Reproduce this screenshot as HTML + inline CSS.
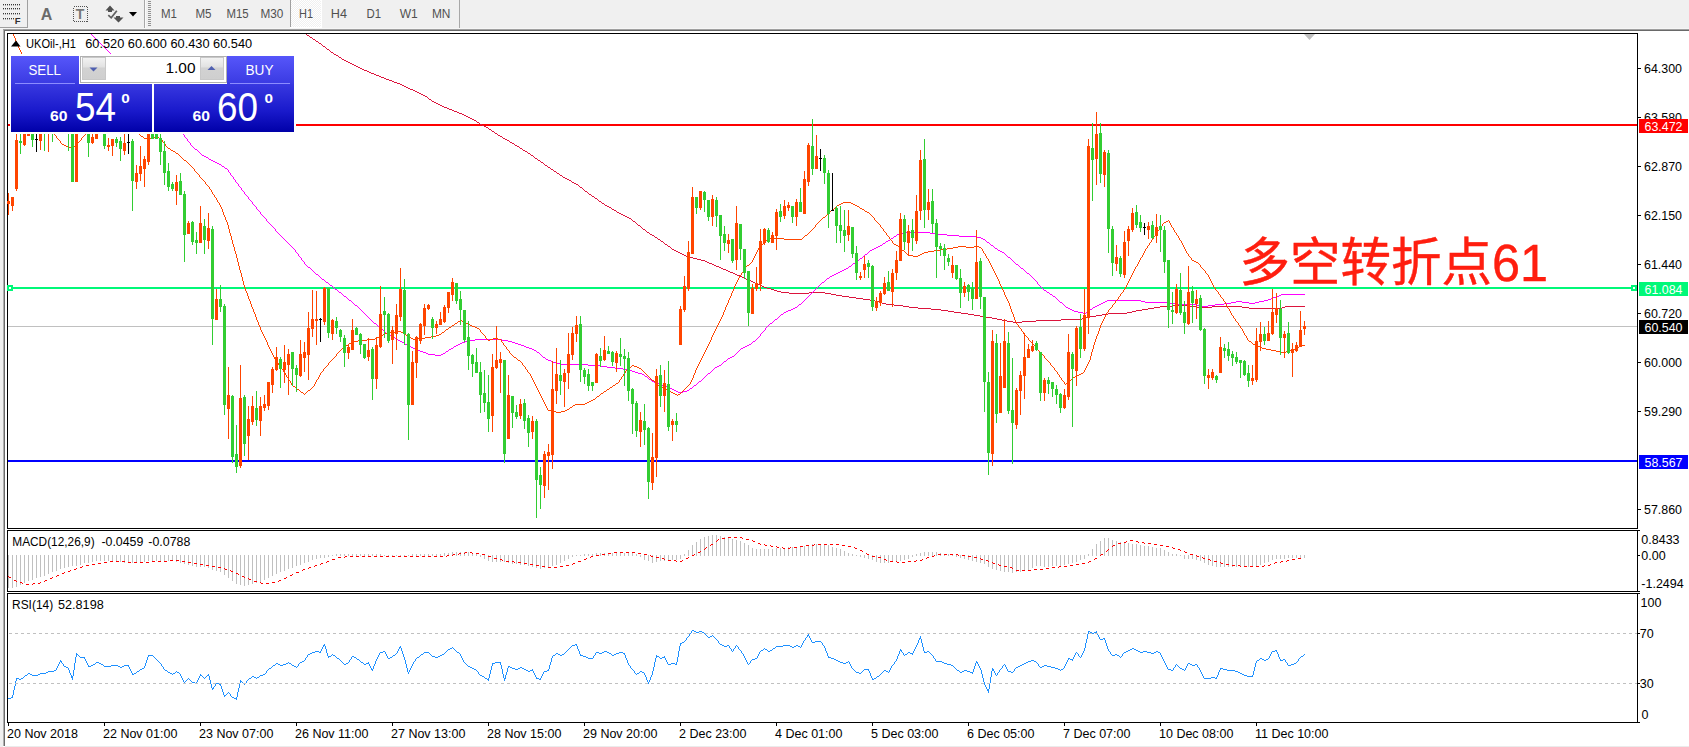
<!DOCTYPE html>
<html><head><meta charset="utf-8"><title>UKOil-,H1</title>
<style>
html,body{margin:0;padding:0;background:#fff;}
body{width:1689px;height:747px;overflow:hidden;position:relative;font-family:"Liberation Sans", sans-serif;}
svg{position:absolute;left:0;top:0;display:block}
text{font-family:"Liberation Sans", sans-serif;}
.ax{font-size:12.5px;fill:#000;}
.tf{font-size:12.5px;fill:#505050;}
.cj{font-family:"Liberation Sans","Noto Sans CJK SC",sans-serif;}
</style></head><body>
<svg width="1689" height="747" viewBox="0 0 1689 747" shape-rendering="crispEdges">
<defs>
<linearGradient id="gb1" x1="0" y1="0" x2="0" y2="1"><stop offset="0" stop-color="#5656fa"/><stop offset="1" stop-color="#3a3ae2"/></linearGradient>
<linearGradient id="gb2" x1="0" y1="0" x2="0" y2="1"><stop offset="0" stop-color="#3838e0"/><stop offset="0.55" stop-color="#1a1acc"/><stop offset="1" stop-color="#0000a8"/></linearGradient>
<linearGradient id="gsp" x1="0" y1="0" x2="0" y2="1"><stop offset="0" stop-color="#f4f4f4"/><stop offset="0.45" stop-color="#e2e2e2"/><stop offset="0.5" stop-color="#d2d2d2"/><stop offset="1" stop-color="#cfcfcf"/></linearGradient>
<pattern id="chk" x="0" y="0" width="2" height="2" patternUnits="userSpaceOnUse"><rect x="0" y="0" width="2" height="2" fill="#f0f0f0"/><rect x="0" y="0" width="1" height="1" fill="#fff"/><rect x="1" y="1" width="1" height="1" fill="#fff"/></pattern>
</defs>

<rect x="0" y="0" width="1689" height="747" fill="#ffffff"/>
<rect x="0" y="0" width="1689" height="29" fill="#f0f0f0"/>
<rect x="0" y="28" width="1689" height="1" fill="#f6f6f6"/>
<rect x="0" y="29" width="1689" height="1" fill="#a0a0a0"/>
<rect x="0" y="30" width="1689" height="1" fill="#696969"/>
<rect x="0" y="29" width="3" height="718" fill="#f0f0f0"/>
<rect x="3" y="30" width="1" height="716" fill="#b0b0b0"/>
<rect x="4" y="30" width="1" height="716" fill="#6c6c6c"/>
<rect x="5" y="746" width="1684" height="1" fill="#ebebeb"/>
<rect x="27" y="0" width="1" height="28" fill="#a0a0a0"/>
<rect x="0" y="27" width="28" height="1" fill="#a0a0a0"/>
<rect x="3" y="4" width="1" height="1" fill="#383838"/>
<rect x="3" y="5" width="1" height="1" fill="#383838" fill-opacity="0.35"/>
<rect x="5" y="4" width="1" height="1" fill="#383838"/>
<rect x="5" y="5" width="1" height="1" fill="#383838" fill-opacity="0.35"/>
<rect x="7" y="4" width="1" height="1" fill="#383838"/>
<rect x="7" y="5" width="1" height="1" fill="#383838" fill-opacity="0.35"/>
<rect x="9" y="4" width="1" height="1" fill="#383838"/>
<rect x="9" y="5" width="1" height="1" fill="#383838" fill-opacity="0.35"/>
<rect x="11" y="4" width="1" height="1" fill="#383838"/>
<rect x="11" y="5" width="1" height="1" fill="#383838" fill-opacity="0.35"/>
<rect x="13" y="4" width="1" height="1" fill="#383838"/>
<rect x="13" y="5" width="1" height="1" fill="#383838" fill-opacity="0.35"/>
<rect x="15" y="4" width="1" height="1" fill="#383838"/>
<rect x="15" y="5" width="1" height="1" fill="#383838" fill-opacity="0.35"/>
<rect x="17" y="4" width="1" height="1" fill="#383838"/>
<rect x="17" y="5" width="1" height="1" fill="#383838" fill-opacity="0.35"/>
<rect x="19" y="4" width="1" height="1" fill="#383838"/>
<rect x="19" y="5" width="1" height="1" fill="#383838" fill-opacity="0.35"/>
<rect x="3" y="8" width="1" height="1" fill="#383838"/>
<rect x="3" y="9" width="1" height="1" fill="#383838" fill-opacity="0.35"/>
<rect x="5" y="8" width="1" height="1" fill="#383838"/>
<rect x="5" y="9" width="1" height="1" fill="#383838" fill-opacity="0.35"/>
<rect x="7" y="8" width="1" height="1" fill="#383838"/>
<rect x="7" y="9" width="1" height="1" fill="#383838" fill-opacity="0.35"/>
<rect x="9" y="8" width="1" height="1" fill="#383838"/>
<rect x="9" y="9" width="1" height="1" fill="#383838" fill-opacity="0.35"/>
<rect x="11" y="8" width="1" height="1" fill="#383838"/>
<rect x="11" y="9" width="1" height="1" fill="#383838" fill-opacity="0.35"/>
<rect x="13" y="8" width="1" height="1" fill="#383838"/>
<rect x="13" y="9" width="1" height="1" fill="#383838" fill-opacity="0.35"/>
<rect x="15" y="8" width="1" height="1" fill="#383838"/>
<rect x="15" y="9" width="1" height="1" fill="#383838" fill-opacity="0.35"/>
<rect x="17" y="8" width="1" height="1" fill="#383838"/>
<rect x="17" y="9" width="1" height="1" fill="#383838" fill-opacity="0.35"/>
<rect x="19" y="8" width="1" height="1" fill="#383838"/>
<rect x="19" y="9" width="1" height="1" fill="#383838" fill-opacity="0.35"/>
<rect x="3" y="13" width="1" height="1" fill="#383838"/>
<rect x="3" y="14" width="1" height="1" fill="#383838" fill-opacity="0.35"/>
<rect x="5" y="13" width="1" height="1" fill="#383838"/>
<rect x="5" y="14" width="1" height="1" fill="#383838" fill-opacity="0.35"/>
<rect x="7" y="13" width="1" height="1" fill="#383838"/>
<rect x="7" y="14" width="1" height="1" fill="#383838" fill-opacity="0.35"/>
<rect x="9" y="13" width="1" height="1" fill="#383838"/>
<rect x="9" y="14" width="1" height="1" fill="#383838" fill-opacity="0.35"/>
<rect x="11" y="13" width="1" height="1" fill="#383838"/>
<rect x="11" y="14" width="1" height="1" fill="#383838" fill-opacity="0.35"/>
<rect x="13" y="13" width="1" height="1" fill="#383838"/>
<rect x="13" y="14" width="1" height="1" fill="#383838" fill-opacity="0.35"/>
<rect x="15" y="13" width="1" height="1" fill="#383838"/>
<rect x="15" y="14" width="1" height="1" fill="#383838" fill-opacity="0.35"/>
<rect x="17" y="13" width="1" height="1" fill="#383838"/>
<rect x="17" y="14" width="1" height="1" fill="#383838" fill-opacity="0.35"/>
<rect x="19" y="13" width="1" height="1" fill="#383838"/>
<rect x="19" y="14" width="1" height="1" fill="#383838" fill-opacity="0.35"/>
<rect x="3" y="18" width="1" height="1" fill="#383838"/>
<rect x="3" y="19" width="1" height="1" fill="#383838" fill-opacity="0.35"/>
<rect x="5" y="18" width="1" height="1" fill="#383838"/>
<rect x="5" y="19" width="1" height="1" fill="#383838" fill-opacity="0.35"/>
<rect x="7" y="18" width="1" height="1" fill="#383838"/>
<rect x="7" y="19" width="1" height="1" fill="#383838" fill-opacity="0.35"/>
<rect x="9" y="18" width="1" height="1" fill="#383838"/>
<rect x="9" y="19" width="1" height="1" fill="#383838" fill-opacity="0.35"/>
<rect x="11" y="18" width="1" height="1" fill="#383838"/>
<rect x="11" y="19" width="1" height="1" fill="#383838" fill-opacity="0.35"/>
<rect x="13" y="18" width="1" height="1" fill="#383838"/>
<rect x="13" y="19" width="1" height="1" fill="#383838" fill-opacity="0.35"/>
<text x="14.8" y="23.5" font-size="9.5px" font-weight="bold" fill="#303030" shape-rendering="auto">F</text>
<text x="40.8" y="20" font-size="16px" font-weight="bold" fill="#6a6a6a" shape-rendering="auto">A</text>
<rect x="73.5" y="6.5" width="14" height="15" fill="none" stroke="#505050" stroke-width="1" stroke-dasharray="1,1"/>
<text x="75.8" y="19.3" font-size="14px" font-weight="bold" fill="#787878" shape-rendering="auto">T</text>
<path d="M105.5 10.5 L110 5.5 L114.5 10.5 L112 10.5 L112 12 L108 12 L108 10.5 Z M113.5 17.5 L116 17.5 L116 16 L120 16 L120 17.5 L123.5 17.5 L118.5 22.5 Z" fill="#505050" shape-rendering="auto"/>
<path d="M108.3 15.2 L111.2 17.8 L116.8 10.8" fill="none" stroke="#606060" stroke-width="1.8" shape-rendering="auto"/>
<path d="M129 12 L137 12 L133 16.5 Z" fill="#000" shape-rendering="auto"/>
<rect x="144" y="0" width="1" height="28" fill="#a8a8a8"/>
<rect x="145" y="0" width="1" height="28" fill="#fafafa"/>
<rect x="148" y="1" width="3" height="1" fill="#909090"/>
<rect x="148" y="3" width="3" height="1" fill="#909090"/>
<rect x="148" y="5" width="3" height="1" fill="#909090"/>
<rect x="148" y="7" width="3" height="1" fill="#909090"/>
<rect x="148" y="9" width="3" height="1" fill="#909090"/>
<rect x="148" y="11" width="3" height="1" fill="#909090"/>
<rect x="148" y="13" width="3" height="1" fill="#909090"/>
<rect x="148" y="15" width="3" height="1" fill="#909090"/>
<rect x="148" y="17" width="3" height="1" fill="#909090"/>
<rect x="148" y="19" width="3" height="1" fill="#909090"/>
<rect x="148" y="21" width="3" height="1" fill="#909090"/>
<rect x="148" y="23" width="3" height="1" fill="#909090"/>
<rect x="148" y="25" width="3" height="1" fill="#909090"/>
<rect x="291" y="0" width="30" height="27" fill="url(#chk)"/>
<rect x="290" y="0" width="1" height="27" fill="#a0a0a0"/>
<rect x="321" y="0" width="1" height="28" fill="#ffffff"/>
<rect x="290" y="27" width="32" height="1" fill="#ffffff"/>
<rect x="459" y="0" width="1" height="28" fill="#a8a8a8"/>
<text class="tf" x="161" y="18" textLength="16.0" lengthAdjust="spacingAndGlyphs" shape-rendering="auto">M1</text>
<text class="tf" x="195.4" y="18" textLength="16.1" lengthAdjust="spacingAndGlyphs" shape-rendering="auto">M5</text>
<text class="tf" x="226.5" y="18" textLength="22.2" lengthAdjust="spacingAndGlyphs" shape-rendering="auto">M15</text>
<text class="tf" x="260.4" y="18" textLength="22.9" lengthAdjust="spacingAndGlyphs" shape-rendering="auto">M30</text>
<text class="tf" x="299" y="18" textLength="14.0" lengthAdjust="spacingAndGlyphs" shape-rendering="auto">H1</text>
<text class="tf" x="330.8" y="18" textLength="16.2" lengthAdjust="spacingAndGlyphs" shape-rendering="auto">H4</text>
<text class="tf" x="366.4" y="18" textLength="14.6" lengthAdjust="spacingAndGlyphs" shape-rendering="auto">D1</text>
<text class="tf" x="399.7" y="18" textLength="18.1" lengthAdjust="spacingAndGlyphs" shape-rendering="auto">W1</text>
<text class="tf" x="431.9" y="18" textLength="18.5" lengthAdjust="spacingAndGlyphs" shape-rendering="auto">MN</text>
<rect x="7" y="33" width="1631" height="1" fill="#000"/>
<rect x="7" y="528" width="1631" height="1" fill="#000"/>
<rect x="7" y="33" width="1" height="496" fill="#000"/>
<rect x="1637" y="33" width="1" height="496" fill="#000"/>
<rect x="7" y="530" width="1631" height="1" fill="#000"/>
<rect x="7" y="591" width="1631" height="1" fill="#000"/>
<rect x="7" y="530" width="1" height="62" fill="#000"/>
<rect x="1637" y="530" width="1" height="62" fill="#000"/>
<rect x="7" y="593" width="1631" height="1" fill="#000"/>
<rect x="7" y="722" width="1631" height="1" fill="#000"/>
<rect x="7" y="593" width="1" height="130" fill="#000"/>
<rect x="1637" y="593" width="1" height="130" fill="#000"/>
<rect x="8" y="326" width="1629" height="1" fill="#c0c0c0"/>
<rect x="8" y="124" width="1629" height="2" fill="#ff0000"/>
<rect x="8" y="287" width="1629" height="2" fill="#00f878"/>
<rect x="8" y="460" width="1629" height="2" fill="#0000ff"/>
<path d="M306 34.5h1M307 35.5h2M309 36.5h1M310 37.5h2M312 38.5h1M313 39.5h2M315 40.5h1M316 41.5h2M318 42.5h1M319 43.5h2M321 44.5h1M322 45.5h1M323 46.5h2M325 47.5h1M326 48.5h1M327 49.5h2M329 50.5h1M330 51.5h1M331 52.5h2M333 53.5h1M334 54.5h2M336 55.5h2M338 56.5h1M339 57.5h2M341 58.5h1M342 59.5h2M344 60.5h2M346 61.5h2M348 62.5h2M350 63.5h2M352 64.5h2M354 65.5h2M356 66.5h2M358 67.5h2M360 68.5h2M362 69.5h2M364 70.5h3M367 71.5h2M369 72.5h2M371 73.5h3M374 74.5h2M376 75.5h3M379 76.5h2M381 77.5h3M384 78.5h2M386 79.5h3M389 80.5h3M392 81.5h2M394 82.5h3M397 83.5h3M400 84.5h2M402 85.5h2M404 86.5h2M406 87.5h2M408 88.5h2M410 89.5h3M413 90.5h2M415 91.5h2M417 92.5h2M419 93.5h2M421 94.5h2M423 95.5h2M425 96.5h2M427 97.5h1M428 98.5h1M429 99.5h2M431 100.5h1M432 101.5h2M434 102.5h2M436 103.5h2M438 104.5h2M440 105.5h2M442 106.5h2M444 107.5h3M447 108.5h2M449 109.5h3M452 110.5h2M454 111.5h3M457 112.5h2M459 113.5h3M462 114.5h2M464 115.5h2M466 116.5h2M468 117.5h2M470 118.5h2M472 119.5h2M474 120.5h2M476 121.5h1M477 122.5h2M479 123.5h1M480 124.5h2M482 125.5h2M484 126.5h2M486 127.5h2M488 128.5h1M489 129.5h2M491 130.5h1M492 131.5h2M494 132.5h1M495 133.5h2M497 134.5h1M498 135.5h2M500 136.5h2M502 137.5h1M503 138.5h2M505 139.5h2M507 140.5h2M509 141.5h1M510 142.5h2M512 143.5h2M514 144.5h1M515 145.5h2M517 146.5h2M519 147.5h1M520 148.5h2M522 149.5h1M523 150.5h2M525 151.5h2M527 152.5h1M528 153.5h2M530 154.5h1M531 155.5h2M533 156.5h1M534 157.5h1M535 158.5h2M537 159.5h1M538 160.5h2M540 161.5h1M541 162.5h2M543 163.5h1M544 164.5h1M545 165.5h2M547 166.5h1M548 167.5h2M550 168.5h1M551 169.5h2M553 170.5h1M554 171.5h2M556 172.5h1M557 173.5h2M559 174.5h1M560 175.5h2M562 176.5h1M563 177.5h2M565 178.5h2M567 179.5h2M569 180.5h2M571 181.5h1M572 182.5h2M574 183.5h2M576 184.5h2M578 185.5h1M579 186.5h1M580 187.5h2M582 188.5h1M583 189.5h1M584 190.5h1M585 191.5h2M587 192.5h1M588 193.5h1M589 194.5h2M591 195.5h1M592 196.5h2M594 197.5h1M595 198.5h2M597 199.5h1M598 200.5h1M599 201.5h2M601 202.5h1M602 203.5h2M604 204.5h1M605 205.5h2M607 206.5h2M609 207.5h2M611 208.5h1M612 209.5h2M614 210.5h2M616 211.5h1M617 212.5h2M619 213.5h2M621 214.5h2M623 215.5h2M625 216.5h2M627 217.5h2M629 218.5h2M631 219.5h1M632 220.5h1M633 221.5h2M635 222.5h1M636 223.5h1M637 224.5h1M638 225.5h2M640 226.5h1M641 227.5h1M642 228.5h1M643 229.5h2M645 230.5h1M646 231.5h1M647 232.5h2M649 233.5h1M650 234.5h2M652 235.5h2M654 236.5h1M655 237.5h2M657 238.5h1M658 239.5h2M660 240.5h1M661 241.5h2M663 242.5h1M664 243.5h1M665 244.5h2M667 245.5h1M668 246.5h2M670 247.5h1M671 248.5h1M672 249.5h2M674 250.5h2M676 251.5h2M678 252.5h2M680 253.5h2M682 254.5h2M684 255.5h2M686 256.5h3M689 257.5h4M693 258.5h4M697 259.5h4M701 260.5h4M705 261.5h2M707 262.5h2M709 263.5h3M712 264.5h2M714 265.5h2M716 266.5h3M719 267.5h2M721 268.5h2M723 269.5h3M726 270.5h2M728 271.5h2M730 272.5h3M733 273.5h2M735 274.5h2M737 275.5h3M740 276.5h2M742 277.5h2M744 278.5h2M746 279.5h3M749 280.5h2M751 281.5h2M753 282.5h2M755 283.5h2M757 284.5h3M760 285.5h2M762 286.5h2M764 287.5h3M767 288.5h4M771 289.5h3M774 290.5h3M777 291.5h4M781 292.5h8M809 292.5h16M789 293.5h20M825 293.5h6M831 294.5h5M836 295.5h6M842 296.5h7M849 297.5h7M856 298.5h7M863 299.5h7M870 300.5h5M875 301.5h4M879 302.5h3M882 303.5h4M886 304.5h8M894 305.5h9M1173 305.5h14M903 306.5h6M1160 306.5h13M1187 306.5h10M1212 306.5h30M1285 306.5h20M909 307.5h9M1154 307.5h6M1197 307.5h15M1242 307.5h7M1282 307.5h3M918 308.5h13M1148 308.5h6M1249 308.5h33M931 309.5h10M1142 309.5h6M941 310.5h7M1136 310.5h6M948 311.5h6M1132 311.5h4M954 312.5h7M1127 312.5h5M961 313.5h7M1108 313.5h19M968 314.5h6M1102 314.5h6M974 315.5h6M1096 315.5h6M980 316.5h6M1090 316.5h6M986 317.5h6M1086 317.5h4M992 318.5h5M1082 318.5h4M997 319.5h5M1061 319.5h21M1002 320.5h5M1036 320.5h25M1007 321.5h6M1022 321.5h14M1013 322.5h9" fill="none" stroke="#dc143c" stroke-width="1" shape-rendering="crispEdges"/>
<path d="M91 34.5h1M92 35.5h1M93 36.5h1M94 37.5h1M95 38.5h1M96 39.5h1M97 40.5h1M98 41.5h1M99 42.5h1M100 43.5h1M101 44.5h1M102 45.5h1M103 46.5h1M104 47.5h1M105 48.5h1M106 49.5h1M107 50.5h1M108 51.5h1M109 52.5h1M110 53.5h1M111 54.5h1M112 55.5h1M113 56.5h1M114 57.5h1M114 58.5h1M115 59.5h1M116 60.5h1M117 61.5h1M118 62.5h1M119 63.5h1M120 64.5h1M120 65.5h1M121 66.5h1M122 67.5h1M123 68.5h1M124 69.5h1M125 70.5h1M126 71.5h1M127 72.5h1M127 73.5h1M128 74.5h1M129 75.5h1M130 76.5h1M131 77.5h1M132 78.5h1M133 79.5h1M134 80.5h1M135 81.5h1M135 82.5h1M136 83.5h1M137 84.5h1M138 85.5h1M139 86.5h1M140 87.5h1M141 88.5h1M142 89.5h1M143 90.5h1M144 91.5h1M145 92.5h1M145 93.5h1M146 94.5h1M147 95.5h1M148 96.5h1M149 97.5h1M150 98.5h1M151 99.5h1M152 100.5h1M153 101.5h1M154 102.5h1M155 103.5h1M155 104.5h1M156 105.5h1M157 106.5h1M158 107.5h1M159 108.5h1M160 109.5h1M161 110.5h1M162 111.5h1M163 112.5h1M164 113.5h1M165 114.5h1M165 115.5h1M166 116.5h1M167 117.5h1M168 118.5h1M169 119.5h1M170 120.5h1M171 121.5h1M172 122.5h1M173 123.5h1M174 124.5h1M175 125.5h1M176 126.5h1M176 127.5h1M177 128.5h1M178 129.5h1M179 130.5h1M180 131.5h1M181 132.5h1M182 133.5h1M183 134.5h1M184 135.5h1M184 136.5h1M185 137.5h1M186 138.5h1M187 139.5h1M187 140.5h1M188 141.5h1M189 142.5h1M190 143.5h1M190 144.5h1M191 145.5h1M192 146.5h1M193 147.5h1M194 148.5h1M195 149.5h2M197 150.5h1M198 151.5h1M199 152.5h1M200 153.5h1M201 154.5h1M202 155.5h2M204 156.5h2M206 157.5h2M208 158.5h1M209 159.5h2M211 160.5h2M213 161.5h2M215 162.5h2M217 163.5h2M219 164.5h2M221 165.5h1M222 166.5h2M224 167.5h1M225 168.5h2M227 169.5h1M228 170.5h1M228 171.5h1M229 172.5h1M230 173.5h1M230 174.5h1M231 175.5h1M232 176.5h1M233 177.5h1M233 178.5h1M234 179.5h1M235 180.5h1M235 181.5h1M236 182.5h1M237 183.5h1M238 184.5h1M238 185.5h1M239 186.5h1M240 187.5h1M241 188.5h1M241 189.5h1M242 190.5h1M243 191.5h1M244 192.5h1M244 193.5h1M245 194.5h1M246 195.5h1M247 196.5h1M248 197.5h1M248 198.5h1M249 199.5h1M250 200.5h1M251 201.5h1M252 202.5h1M252 203.5h1M253 204.5h1M254 205.5h1M255 206.5h1M256 207.5h1M256 208.5h1M257 209.5h1M258 210.5h1M259 211.5h1M260 212.5h1M260 213.5h1M261 214.5h1M262 215.5h1M263 216.5h1M264 217.5h1M265 218.5h1M266 219.5h1M266 220.5h1M267 221.5h1M268 222.5h1M269 223.5h1M270 224.5h1M271 225.5h1M272 226.5h1M273 227.5h1M274 228.5h1M275 229.5h1M275 230.5h1M276 231.5h1M277 232.5h1M906 232.5h24M278 233.5h1M900 233.5h6M930 233.5h6M279 234.5h1M897 234.5h3M936 234.5h11M280 235.5h1M896 235.5h1M947 235.5h12M281 236.5h1M894 236.5h2M959 236.5h18M282 237.5h1M893 237.5h1M977 237.5h4M283 238.5h1M891 238.5h2M981 238.5h2M284 239.5h1M890 239.5h1M983 239.5h2M285 240.5h1M888 240.5h2M985 240.5h1M286 241.5h1M886 241.5h2M986 241.5h1M287 242.5h1M885 242.5h1M987 242.5h2M288 243.5h1M883 243.5h2M989 243.5h1M289 244.5h1M882 244.5h1M990 244.5h1M290 245.5h1M880 245.5h2M991 245.5h2M291 246.5h1M878 246.5h2M993 246.5h1M292 247.5h1M876 247.5h2M994 247.5h1M293 248.5h1M874 248.5h2M995 248.5h2M294 249.5h1M872 249.5h2M997 249.5h1M295 250.5h1M870 250.5h2M998 250.5h2M295 251.5h1M869 251.5h1M1000 251.5h2M296 252.5h1M868 252.5h1M1002 252.5h2M297 253.5h1M867 253.5h1M1004 253.5h1M298 254.5h1M865 254.5h2M1005 254.5h1M298 255.5h1M864 255.5h1M1006 255.5h1M299 256.5h1M863 256.5h1M1007 256.5h1M300 257.5h1M862 257.5h1M1008 257.5h2M301 258.5h1M860 258.5h2M1010 258.5h1M301 259.5h1M859 259.5h1M1011 259.5h1M302 260.5h1M858 260.5h1M1012 260.5h1M303 261.5h1M856 261.5h2M1013 261.5h1M304 262.5h1M855 262.5h1M1014 262.5h1M304 263.5h1M853 263.5h2M1015 263.5h1M305 264.5h1M852 264.5h1M1016 264.5h2M306 265.5h1M851 265.5h1M1018 265.5h1M307 266.5h1M849 266.5h2M1019 266.5h1M308 267.5h2M848 267.5h1M1020 267.5h1M310 268.5h1M846 268.5h2M1021 268.5h2M311 269.5h1M844 269.5h2M1023 269.5h1M312 270.5h1M842 270.5h2M1024 270.5h1M313 271.5h1M840 271.5h2M1025 271.5h1M314 272.5h1M838 272.5h2M1026 272.5h1M315 273.5h1M836 273.5h2M1027 273.5h2M316 274.5h2M834 274.5h2M1029 274.5h1M318 275.5h1M832 275.5h2M1030 275.5h1M319 276.5h1M830 276.5h2M1031 276.5h1M320 277.5h1M829 277.5h1M1032 277.5h1M321 278.5h1M827 278.5h2M1033 278.5h1M322 279.5h2M826 279.5h1M1034 279.5h1M324 280.5h1M825 280.5h1M1035 280.5h1M325 281.5h1M824 281.5h1M1036 281.5h1M326 282.5h2M822 282.5h2M1037 282.5h1M328 283.5h1M821 283.5h1M1037 283.5h1M329 284.5h1M820 284.5h1M1038 284.5h1M330 285.5h2M819 285.5h1M1039 285.5h1M332 286.5h1M818 286.5h1M1040 286.5h1M333 287.5h1M817 287.5h1M1041 287.5h1M334 288.5h1M816 288.5h1M1042 288.5h1M335 289.5h2M815 289.5h1M1043 289.5h1M337 290.5h1M814 290.5h1M1044 290.5h2M338 291.5h1M813 291.5h1M1046 291.5h1M339 292.5h2M812 292.5h1M1047 292.5h2M341 293.5h1M811 293.5h1M1049 293.5h1M342 294.5h1M810 294.5h1M1050 294.5h2M1281 294.5h24M343 295.5h1M809 295.5h1M1052 295.5h1M1279 295.5h2M344 296.5h2M808 296.5h1M1053 296.5h2M1276 296.5h3M346 297.5h1M807 297.5h1M1055 297.5h1M1273 297.5h3M347 298.5h1M806 298.5h1M1056 298.5h1M1271 298.5h2M348 299.5h1M805 299.5h1M1057 299.5h1M1268 299.5h3M349 300.5h2M804 300.5h1M1058 300.5h1M1107 300.5h34M1264 300.5h4M351 301.5h1M803 301.5h1M1059 301.5h1M1105 301.5h2M1141 301.5h4M1236 301.5h6M1259 301.5h5M352 302.5h1M802 302.5h1M1060 302.5h2M1103 302.5h2M1145 302.5h23M1231 302.5h5M1242 302.5h7M1255 302.5h4M353 303.5h1M801 303.5h1M1062 303.5h1M1101 303.5h2M1168 303.5h9M1224 303.5h7M1249 303.5h6M354 304.5h1M799 304.5h2M1063 304.5h1M1099 304.5h2M1177 304.5h19M1215 304.5h9M355 305.5h2M798 305.5h1M1064 305.5h1M1097 305.5h2M1196 305.5h6M1208 305.5h7M357 306.5h1M797 306.5h1M1065 306.5h1M1095 306.5h2M1202 306.5h6M358 307.5h1M795 307.5h2M1066 307.5h2M1093 307.5h2M359 308.5h1M793 308.5h2M1068 308.5h2M1092 308.5h1M360 309.5h1M791 309.5h2M1070 309.5h2M1090 309.5h2M361 310.5h1M788 310.5h3M1072 310.5h2M1089 310.5h1M362 311.5h1M786 311.5h2M1074 311.5h4M1088 311.5h1M363 312.5h1M784 312.5h2M1078 312.5h5M1086 312.5h2M364 313.5h1M783 313.5h1M1083 313.5h3M365 314.5h1M781 314.5h2M366 315.5h1M780 315.5h1M367 316.5h1M779 316.5h1M368 317.5h1M778 317.5h1M369 318.5h1M777 318.5h1M370 319.5h1M775 319.5h2M371 320.5h1M774 320.5h1M372 321.5h1M773 321.5h1M373 322.5h1M772 322.5h1M374 323.5h2M770 323.5h2M376 324.5h1M769 324.5h1M377 325.5h1M768 325.5h1M378 326.5h1M767 326.5h1M379 327.5h1M766 327.5h1M380 328.5h1M765 328.5h1M381 329.5h2M765 329.5h1M383 330.5h1M764 330.5h1M384 331.5h1M763 331.5h1M385 332.5h1M762 332.5h1M386 333.5h1M761 333.5h1M387 334.5h2M760 334.5h1M389 335.5h2M760 335.5h1M391 336.5h2M759 336.5h1M393 337.5h2M758 337.5h1M395 338.5h1M757 338.5h1M396 339.5h2M475 339.5h27M756 339.5h1M398 340.5h2M467 340.5h8M502 340.5h6M755 340.5h1M400 341.5h2M465 341.5h2M508 341.5h4M753 341.5h2M402 342.5h2M462 342.5h3M512 342.5h3M752 342.5h1M404 343.5h1M460 343.5h2M515 343.5h3M751 343.5h1M405 344.5h2M458 344.5h2M518 344.5h3M749 344.5h2M407 345.5h2M456 345.5h2M521 345.5h3M747 345.5h2M409 346.5h2M454 346.5h2M524 346.5h2M745 346.5h2M411 347.5h2M453 347.5h1M526 347.5h3M743 347.5h2M413 348.5h2M451 348.5h2M529 348.5h3M741 348.5h2M415 349.5h3M449 349.5h2M532 349.5h2M740 349.5h1M418 350.5h2M448 350.5h1M534 350.5h2M739 350.5h1M420 351.5h3M446 351.5h2M536 351.5h1M738 351.5h1M423 352.5h3M445 352.5h1M537 352.5h2M737 352.5h1M426 353.5h2M443 353.5h2M539 353.5h1M736 353.5h1M428 354.5h7M441 354.5h2M540 354.5h1M735 354.5h1M435 355.5h6M541 355.5h1M734 355.5h1M542 356.5h1M732 356.5h2M543 357.5h2M730 357.5h2M545 358.5h1M728 358.5h2M546 359.5h2M727 359.5h1M548 360.5h3M726 360.5h1M551 361.5h2M724 361.5h2M553 362.5h3M723 362.5h1M556 363.5h4M722 363.5h1M560 364.5h28M721 364.5h1M588 365.5h12M719 365.5h2M600 366.5h7M717 366.5h2M607 367.5h8M715 367.5h2M615 368.5h8M714 368.5h1M623 369.5h5M713 369.5h1M628 370.5h4M712 370.5h1M632 371.5h3M711 371.5h1M635 372.5h3M710 372.5h1M638 373.5h4M708 373.5h2M642 374.5h2M707 374.5h1M644 375.5h1M706 375.5h1M645 376.5h2M705 376.5h1M647 377.5h1M704 377.5h1M648 378.5h1M703 378.5h1M649 379.5h2M702 379.5h1M651 380.5h1M701 380.5h1M652 381.5h2M699 381.5h2M654 382.5h3M698 382.5h1M657 383.5h2M697 383.5h1M659 384.5h3M696 384.5h1M662 385.5h3M694 385.5h2M665 386.5h2M693 386.5h1M667 387.5h3M692 387.5h1M670 388.5h2M690 388.5h2M672 389.5h2M689 389.5h1M674 390.5h2M687 390.5h2M676 391.5h2M683 391.5h4M678 392.5h5" fill="none" stroke="#ff00ff" stroke-width="1" shape-rendering="crispEdges"/>
<path d="M13 34.5h1M13 35.5h1M14 36.5h1M14 37.5h1M15 38.5h1M15 39.5h1M15 40.5h1M16 41.5h1M16 42.5h1M17 43.5h1M17 44.5h1M17 45.5h1M18 46.5h1M18 47.5h1M19 48.5h1M19 49.5h1M20 50.5h1M20 51.5h1M21 52.5h1M21 53.5h1M22 54.5h1M22 55.5h1M22 56.5h1M23 57.5h1M23 58.5h1M24 59.5h1M24 60.5h1M24 61.5h1M25 62.5h1M25 63.5h1M26 64.5h1M26 65.5h1M26 66.5h1M27 67.5h1M27 68.5h1M28 69.5h1M28 70.5h1M28 71.5h1M29 72.5h1M29 73.5h1M30 74.5h1M30 75.5h1M30 76.5h1M31 77.5h1M31 78.5h1M32 79.5h1M32 80.5h1M32 81.5h1M33 82.5h1M33 83.5h1M34 84.5h1M34 85.5h1M34 86.5h1M35 87.5h1M35 88.5h1M36 89.5h1M36 90.5h1M36 91.5h1M37 92.5h1M37 93.5h1M38 94.5h1M38 95.5h1M38 96.5h1M39 97.5h1M39 98.5h1M40 99.5h1M40 100.5h1M40 101.5h1M41 102.5h1M41 103.5h1M41 104.5h1M42 105.5h1M42 106.5h1M43 107.5h1M43 108.5h1M43 109.5h1M44 110.5h1M44 111.5h1M44 112.5h1M45 113.5h1M45 114.5h1M45 115.5h1M46 116.5h1M46 117.5h1M47 118.5h1M109 118.5h3M47 119.5h1M107 119.5h2M112 119.5h4M47 120.5h1M104 120.5h3M116 120.5h4M48 121.5h1M102 121.5h2M120 121.5h4M48 122.5h1M99 122.5h3M124 122.5h2M48 123.5h1M97 123.5h2M126 123.5h1M49 124.5h1M95 124.5h2M127 124.5h1M49 125.5h1M94 125.5h1M128 125.5h2M50 126.5h1M93 126.5h1M130 126.5h1M50 127.5h1M92 127.5h1M131 127.5h1M51 128.5h1M91 128.5h1M132 128.5h1M51 129.5h1M90 129.5h1M133 129.5h1M52 130.5h1M89 130.5h1M134 130.5h1M52 131.5h1M88 131.5h1M135 131.5h2M53 132.5h1M87 132.5h1M137 132.5h1M53 133.5h1M86 133.5h1M138 133.5h1M54 134.5h1M85 134.5h1M139 134.5h1M55 135.5h1M84 135.5h1M140 135.5h1M56 136.5h1M83 136.5h1M141 136.5h2M155 136.5h2M56 137.5h1M82 137.5h1M143 137.5h1M152 137.5h3M157 137.5h2M57 138.5h1M81 138.5h1M144 138.5h8M159 138.5h2M58 139.5h1M81 139.5h1M161 139.5h1M59 140.5h1M80 140.5h1M162 140.5h1M60 141.5h1M79 141.5h1M162 141.5h1M60 142.5h1M78 142.5h1M163 142.5h1M61 143.5h1M77 143.5h1M164 143.5h1M62 144.5h2M76 144.5h1M165 144.5h1M64 145.5h2M75 145.5h1M165 145.5h1M66 146.5h2M74 146.5h1M166 146.5h1M68 147.5h3M73 147.5h1M167 147.5h1M71 148.5h2M168 148.5h2M170 149.5h1M171 150.5h2M173 151.5h2M175 152.5h1M176 153.5h2M178 154.5h1M179 155.5h1M180 156.5h1M181 157.5h1M182 158.5h1M183 159.5h1M184 160.5h2M186 161.5h1M187 162.5h1M188 163.5h1M189 164.5h1M190 165.5h1M191 166.5h1M192 167.5h1M193 168.5h1M194 169.5h1M194 170.5h1M195 171.5h1M196 172.5h1M197 173.5h1M198 174.5h1M199 175.5h1M199 176.5h1M200 177.5h1M201 178.5h1M202 179.5h1M203 180.5h1M204 181.5h1M205 182.5h1M205 183.5h1M206 184.5h1M207 185.5h1M208 186.5h1M209 187.5h1M209 188.5h1M210 189.5h1M211 190.5h1M211 191.5h1M212 192.5h1M212 193.5h1M213 194.5h1M214 195.5h1M214 196.5h1M215 197.5h1M216 198.5h1M216 199.5h1M217 200.5h1M217 201.5h1M218 202.5h1M843 202.5h8M219 203.5h1M841 203.5h2M851 203.5h2M219 204.5h1M839 204.5h2M853 204.5h2M220 205.5h1M837 205.5h2M855 205.5h2M220 206.5h1M836 206.5h1M857 206.5h2M221 207.5h1M835 207.5h1M859 207.5h1M221 208.5h1M834 208.5h1M860 208.5h2M222 209.5h1M833 209.5h1M862 209.5h2M222 210.5h1M831 210.5h2M864 210.5h1M222 211.5h1M830 211.5h1M865 211.5h2M223 212.5h1M829 212.5h1M867 212.5h2M223 213.5h1M828 213.5h1M869 213.5h1M223 214.5h1M827 214.5h1M870 214.5h1M224 215.5h1M826 215.5h1M871 215.5h1M224 216.5h1M825 216.5h1M872 216.5h1M225 217.5h1M823 217.5h2M873 217.5h1M225 218.5h1M822 218.5h1M874 218.5h1M225 219.5h1M821 219.5h1M874 219.5h1M226 220.5h1M820 220.5h1M875 220.5h1M1168 220.5h1M226 221.5h1M819 221.5h1M876 221.5h1M1166 221.5h2M1169 221.5h1M227 222.5h1M818 222.5h1M877 222.5h1M1164 222.5h2M1169 222.5h1M227 223.5h1M817 223.5h1M878 223.5h1M1163 223.5h1M1170 223.5h1M227 224.5h1M816 224.5h1M879 224.5h1M1162 224.5h1M1170 224.5h1M228 225.5h1M815 225.5h1M880 225.5h1M1162 225.5h1M1171 225.5h1M228 226.5h1M815 226.5h1M880 226.5h1M1161 226.5h1M1171 226.5h1M228 227.5h1M814 227.5h1M881 227.5h1M1160 227.5h1M1172 227.5h1M228 228.5h1M813 228.5h1M882 228.5h1M1160 228.5h1M1173 228.5h1M229 229.5h1M812 229.5h1M883 229.5h1M1159 229.5h1M1173 229.5h1M229 230.5h1M811 230.5h1M883 230.5h1M1158 230.5h1M1174 230.5h1M229 231.5h1M810 231.5h1M884 231.5h1M1157 231.5h1M1174 231.5h1M229 232.5h1M809 232.5h1M885 232.5h1M1157 232.5h1M1175 232.5h1M230 233.5h1M808 233.5h1M886 233.5h1M1156 233.5h1M1176 233.5h1M230 234.5h1M807 234.5h1M886 234.5h1M1155 234.5h1M1176 234.5h1M230 235.5h1M805 235.5h2M887 235.5h1M1155 235.5h1M1177 235.5h1M231 236.5h1M804 236.5h1M888 236.5h1M1154 236.5h1M1178 236.5h1M231 237.5h1M803 237.5h1M889 237.5h1M1153 237.5h1M1178 237.5h1M231 238.5h1M768 238.5h16M802 238.5h1M889 238.5h1M1153 238.5h1M1179 238.5h1M231 239.5h1M767 239.5h1M784 239.5h18M890 239.5h1M1152 239.5h1M1179 239.5h1M232 240.5h1M766 240.5h1M891 240.5h1M1151 240.5h1M1180 240.5h1M232 241.5h1M765 241.5h1M892 241.5h1M1151 241.5h1M1181 241.5h1M232 242.5h1M764 242.5h1M892 242.5h1M1150 242.5h1M1181 242.5h1M232 243.5h1M763 243.5h1M893 243.5h1M1149 243.5h1M1182 243.5h1M233 244.5h1M762 244.5h1M894 244.5h2M1149 244.5h1M1182 244.5h1M233 245.5h1M761 245.5h1M896 245.5h2M1148 245.5h1M1183 245.5h1M233 246.5h1M760 246.5h1M898 246.5h1M958 246.5h8M974 246.5h5M1147 246.5h1M1183 246.5h1M234 247.5h1M759 247.5h1M899 247.5h1M953 247.5h5M966 247.5h8M979 247.5h2M1147 247.5h1M1184 247.5h1M234 248.5h1M758 248.5h1M900 248.5h1M947 248.5h6M981 248.5h1M1146 248.5h1M1184 248.5h1M234 249.5h1M758 249.5h1M901 249.5h1M941 249.5h6M982 249.5h1M1145 249.5h1M1185 249.5h1M234 250.5h1M757 250.5h1M902 250.5h2M934 250.5h7M982 250.5h1M1145 250.5h1M1185 250.5h1M235 251.5h1M757 251.5h1M904 251.5h1M928 251.5h6M983 251.5h1M1144 251.5h1M1186 251.5h1M235 252.5h1M756 252.5h1M905 252.5h1M924 252.5h4M983 252.5h1M1144 252.5h1M1186 252.5h1M235 253.5h1M756 253.5h1M906 253.5h1M922 253.5h2M984 253.5h1M1143 253.5h1M1187 253.5h1M236 254.5h1M755 254.5h1M907 254.5h1M920 254.5h2M985 254.5h1M1143 254.5h1M1188 254.5h1M236 255.5h1M755 255.5h1M908 255.5h5M918 255.5h2M985 255.5h1M1142 255.5h1M1188 255.5h1M236 256.5h1M754 256.5h1M913 256.5h5M986 256.5h1M1142 256.5h1M1189 256.5h1M236 257.5h1M754 257.5h1M986 257.5h1M1141 257.5h1M1190 257.5h1M237 258.5h1M753 258.5h1M987 258.5h1M1140 258.5h1M1191 258.5h1M237 259.5h1M753 259.5h1M988 259.5h1M1140 259.5h1M1191 259.5h1M237 260.5h1M752 260.5h1M988 260.5h1M1139 260.5h1M1192 260.5h2M237 261.5h1M752 261.5h1M989 261.5h1M1139 261.5h1M1194 261.5h2M238 262.5h1M751 262.5h1M989 262.5h1M1138 262.5h1M1196 262.5h2M238 263.5h1M750 263.5h1M990 263.5h1M1138 263.5h1M1198 263.5h1M238 264.5h1M749 264.5h1M990 264.5h1M1137 264.5h1M1199 264.5h1M238 265.5h1M747 265.5h2M991 265.5h1M1137 265.5h1M1200 265.5h1M239 266.5h1M746 266.5h1M991 266.5h1M1136 266.5h1M1200 266.5h1M239 267.5h1M745 267.5h1M992 267.5h1M1135 267.5h1M1201 267.5h1M239 268.5h1M744 268.5h1M992 268.5h1M1135 268.5h1M1202 268.5h1M239 269.5h1M744 269.5h1M993 269.5h1M1134 269.5h1M1203 269.5h1M240 270.5h1M743 270.5h1M993 270.5h1M1134 270.5h1M1204 270.5h1M240 271.5h1M743 271.5h1M994 271.5h1M1133 271.5h1M1205 271.5h1M240 272.5h1M742 272.5h1M994 272.5h1M1133 272.5h1M1205 272.5h1M241 273.5h1M741 273.5h1M995 273.5h1M1132 273.5h1M1206 273.5h1M241 274.5h1M741 274.5h1M995 274.5h1M1132 274.5h1M1207 274.5h1M241 275.5h1M740 275.5h1M996 275.5h1M1131 275.5h1M1208 275.5h1M241 276.5h1M739 276.5h1M996 276.5h1M1131 276.5h1M1208 276.5h1M242 277.5h1M739 277.5h1M997 277.5h1M1130 277.5h1M1209 277.5h1M242 278.5h1M738 278.5h1M997 278.5h1M1130 278.5h1M1209 278.5h1M242 279.5h1M738 279.5h1M998 279.5h1M1129 279.5h1M1210 279.5h1M242 280.5h1M737 280.5h1M998 280.5h1M1129 280.5h1M1210 280.5h1M243 281.5h1M737 281.5h1M999 281.5h1M1128 281.5h1M1211 281.5h1M243 282.5h1M736 282.5h1M999 282.5h1M1128 282.5h1M1211 282.5h1M243 283.5h1M736 283.5h1M999 283.5h1M1127 283.5h1M1212 283.5h1M243 284.5h1M735 284.5h1M1000 284.5h1M1127 284.5h1M1212 284.5h1M244 285.5h1M735 285.5h1M1000 285.5h1M1126 285.5h1M1213 285.5h1M244 286.5h1M734 286.5h1M1001 286.5h1M1126 286.5h1M1213 286.5h1M244 287.5h1M734 287.5h1M1001 287.5h1M1125 287.5h1M1214 287.5h1M245 288.5h1M734 288.5h1M1002 288.5h1M1125 288.5h1M1215 288.5h1M245 289.5h1M733 289.5h1M1002 289.5h1M1124 289.5h1M1215 289.5h1M245 290.5h1M733 290.5h1M1003 290.5h1M1123 290.5h1M1216 290.5h1M246 291.5h1M732 291.5h1M1003 291.5h1M1123 291.5h1M1217 291.5h1M246 292.5h1M732 292.5h1M1004 292.5h1M1122 292.5h1M1218 292.5h1M247 293.5h1M731 293.5h1M1004 293.5h1M1121 293.5h1M1218 293.5h1M247 294.5h1M731 294.5h1M1004 294.5h1M1120 294.5h1M1219 294.5h1M247 295.5h1M731 295.5h1M1005 295.5h1M1120 295.5h1M1220 295.5h1M248 296.5h1M730 296.5h1M1005 296.5h1M1119 296.5h1M1220 296.5h1M248 297.5h1M730 297.5h1M1006 297.5h1M1118 297.5h1M1221 297.5h1M248 298.5h1M729 298.5h1M1006 298.5h1M1118 298.5h1M1222 298.5h1M249 299.5h1M729 299.5h1M1007 299.5h1M1117 299.5h1M1223 299.5h1M249 300.5h1M728 300.5h1M1007 300.5h1M1116 300.5h1M1223 300.5h1M250 301.5h1M728 301.5h1M1008 301.5h1M1115 301.5h1M1224 301.5h1M250 302.5h1M728 302.5h1M1008 302.5h1M1115 302.5h1M1225 302.5h1M250 303.5h1M727 303.5h1M1009 303.5h1M1114 303.5h1M1225 303.5h1M251 304.5h1M727 304.5h1M1009 304.5h1M1113 304.5h1M1226 304.5h1M251 305.5h1M726 305.5h1M1009 305.5h1M1112 305.5h1M1226 305.5h1M251 306.5h1M726 306.5h1M1010 306.5h1M1112 306.5h1M1227 306.5h1M252 307.5h1M725 307.5h1M1010 307.5h1M1111 307.5h1M1227 307.5h1M252 308.5h1M725 308.5h1M1010 308.5h1M1110 308.5h1M1228 308.5h1M253 309.5h1M725 309.5h1M1011 309.5h1M1109 309.5h1M1229 309.5h1M253 310.5h1M724 310.5h1M1011 310.5h1M1108 310.5h1M1229 310.5h1M253 311.5h1M724 311.5h1M1011 311.5h1M1108 311.5h1M1230 311.5h1M254 312.5h1M723 312.5h1M1012 312.5h1M1107 312.5h1M1230 312.5h1M254 313.5h1M723 313.5h1M1012 313.5h1M1106 313.5h1M1231 313.5h1M255 314.5h1M723 314.5h1M1013 314.5h1M1106 314.5h1M1231 314.5h1M255 315.5h1M722 315.5h1M1013 315.5h1M1105 315.5h1M1232 315.5h1M255 316.5h1M722 316.5h1M1013 316.5h1M1105 316.5h1M1233 316.5h1M256 317.5h1M721 317.5h1M1014 317.5h1M1104 317.5h1M1233 317.5h1M256 318.5h1M721 318.5h1M1014 318.5h1M1104 318.5h1M1234 318.5h1M256 319.5h1M720 319.5h1M1014 319.5h1M1103 319.5h1M1235 319.5h1M257 320.5h1M460 320.5h2M720 320.5h1M1015 320.5h1M1103 320.5h1M1235 320.5h1M257 321.5h1M458 321.5h2M462 321.5h2M719 321.5h1M1015 321.5h1M1102 321.5h1M1236 321.5h1M258 322.5h1M457 322.5h1M464 322.5h2M719 322.5h1M1016 322.5h1M1102 322.5h1M1237 322.5h1M258 323.5h1M455 323.5h2M466 323.5h2M718 323.5h1M1016 323.5h1M1101 323.5h1M1238 323.5h1M258 324.5h1M454 324.5h1M468 324.5h2M718 324.5h1M1017 324.5h1M1101 324.5h1M1238 324.5h1M259 325.5h1M452 325.5h2M470 325.5h2M717 325.5h1M1018 325.5h1M1100 325.5h1M1239 325.5h1M259 326.5h1M451 326.5h1M472 326.5h3M717 326.5h1M1018 326.5h1M1100 326.5h1M1240 326.5h1M260 327.5h1M449 327.5h2M475 327.5h2M716 327.5h1M1019 327.5h1M1100 327.5h1M1240 327.5h1M260 328.5h1M448 328.5h1M477 328.5h2M716 328.5h1M1020 328.5h1M1099 328.5h1M1241 328.5h1M260 329.5h1M446 329.5h2M479 329.5h1M715 329.5h1M1021 329.5h1M1099 329.5h1M1242 329.5h1M261 330.5h1M445 330.5h1M480 330.5h1M715 330.5h1M1021 330.5h1M1099 330.5h1M1242 330.5h1M261 331.5h1M397 331.5h4M444 331.5h1M480 331.5h1M714 331.5h1M1022 331.5h1M1098 331.5h1M1243 331.5h1M262 332.5h1M389 332.5h8M401 332.5h2M442 332.5h2M481 332.5h1M714 332.5h1M1023 332.5h1M1098 332.5h1M1243 332.5h1M262 333.5h1M385 333.5h4M403 333.5h2M441 333.5h1M482 333.5h1M713 333.5h1M1023 333.5h1M1098 333.5h1M1244 333.5h1M263 334.5h1M383 334.5h2M405 334.5h1M439 334.5h2M483 334.5h1M713 334.5h1M1024 334.5h1M1097 334.5h1M1244 334.5h1M263 335.5h1M381 335.5h2M406 335.5h2M436 335.5h3M484 335.5h1M712 335.5h1M1025 335.5h1M1097 335.5h1M1245 335.5h1M264 336.5h1M379 336.5h2M408 336.5h1M431 336.5h5M485 336.5h1M712 336.5h1M1026 336.5h1M1096 336.5h1M1246 336.5h1M264 337.5h1M377 337.5h2M409 337.5h2M425 337.5h6M485 337.5h1M711 337.5h1M1027 337.5h1M1096 337.5h1M1246 337.5h1M265 338.5h1M375 338.5h2M411 338.5h2M418 338.5h7M486 338.5h1M493 338.5h5M711 338.5h1M1028 338.5h1M1096 338.5h1M1247 338.5h1M265 339.5h1M367 339.5h8M413 339.5h5M487 339.5h1M490 339.5h3M498 339.5h3M711 339.5h1M1028 339.5h1M1095 339.5h1M1247 339.5h1M266 340.5h1M358 340.5h9M488 340.5h2M501 340.5h1M710 340.5h1M1029 340.5h1M1095 340.5h1M1248 340.5h1M266 341.5h1M354 341.5h4M501 341.5h1M710 341.5h1M1030 341.5h1M1095 341.5h1M1249 341.5h2M267 342.5h1M351 342.5h3M502 342.5h1M709 342.5h1M1031 342.5h1M1094 342.5h1M1251 342.5h1M267 343.5h1M349 343.5h2M503 343.5h1M709 343.5h1M1032 343.5h1M1094 343.5h1M1252 343.5h1M267 344.5h1M348 344.5h1M503 344.5h1M708 344.5h1M1033 344.5h1M1094 344.5h1M1253 344.5h2M268 345.5h1M346 345.5h2M504 345.5h1M708 345.5h1M1034 345.5h1M1093 345.5h1M1255 345.5h2M1302 345.5h3M268 346.5h1M345 346.5h1M505 346.5h1M707 346.5h1M1035 346.5h1M1093 346.5h1M1257 346.5h3M1299 346.5h3M269 347.5h1M343 347.5h2M506 347.5h1M707 347.5h1M1036 347.5h1M1093 347.5h1M1260 347.5h2M1297 347.5h2M269 348.5h1M342 348.5h1M506 348.5h1M706 348.5h1M1036 348.5h1M1093 348.5h1M1262 348.5h4M1295 348.5h2M270 349.5h1M341 349.5h1M507 349.5h1M706 349.5h1M1037 349.5h1M1092 349.5h1M1266 349.5h5M1293 349.5h2M270 350.5h1M340 350.5h1M508 350.5h1M705 350.5h1M1038 350.5h1M1092 350.5h1M1271 350.5h5M1290 350.5h3M271 351.5h1M339 351.5h1M509 351.5h1M705 351.5h1M1039 351.5h1M1092 351.5h1M1276 351.5h5M1286 351.5h4M271 352.5h1M338 352.5h1M509 352.5h1M704 352.5h1M1040 352.5h1M1091 352.5h1M1281 352.5h5M272 353.5h1M337 353.5h1M510 353.5h1M704 353.5h1M1041 353.5h1M1091 353.5h1M272 354.5h1M336 354.5h1M511 354.5h1M703 354.5h1M1042 354.5h1M1091 354.5h1M273 355.5h1M336 355.5h1M512 355.5h1M703 355.5h1M1043 355.5h1M1091 355.5h1M273 356.5h1M335 356.5h1M513 356.5h1M702 356.5h1M1044 356.5h1M1090 356.5h1M274 357.5h1M334 357.5h1M514 357.5h2M702 357.5h1M1044 357.5h1M1090 357.5h1M274 358.5h1M333 358.5h1M516 358.5h1M701 358.5h1M1045 358.5h1M1090 358.5h1M275 359.5h1M332 359.5h1M517 359.5h1M701 359.5h1M1046 359.5h1M1090 359.5h1M276 360.5h1M331 360.5h1M518 360.5h2M700 360.5h1M1047 360.5h1M1089 360.5h1M276 361.5h1M330 361.5h1M520 361.5h1M700 361.5h1M1048 361.5h1M1089 361.5h1M277 362.5h1M329 362.5h1M521 362.5h1M699 362.5h1M1049 362.5h1M1088 362.5h1M278 363.5h1M328 363.5h1M522 363.5h1M699 363.5h1M1050 363.5h1M1088 363.5h1M278 364.5h1M328 364.5h1M522 364.5h1M698 364.5h1M1050 364.5h1M1087 364.5h1M279 365.5h1M327 365.5h1M523 365.5h1M632 365.5h2M698 365.5h1M1051 365.5h1M1087 365.5h1M280 366.5h1M326 366.5h1M524 366.5h1M631 366.5h1M634 366.5h3M697 366.5h1M1052 366.5h1M1086 366.5h1M281 367.5h1M325 367.5h1M525 367.5h1M630 367.5h1M637 367.5h2M697 367.5h1M1053 367.5h1M1086 367.5h1M281 368.5h1M324 368.5h1M525 368.5h1M628 368.5h2M639 368.5h2M696 368.5h1M1054 368.5h1M1085 368.5h1M282 369.5h1M323 369.5h1M526 369.5h1M627 369.5h1M641 369.5h1M696 369.5h1M1054 369.5h1M1085 369.5h1M283 370.5h1M323 370.5h1M527 370.5h1M626 370.5h1M642 370.5h1M695 370.5h1M1055 370.5h1M1084 370.5h1M283 371.5h1M322 371.5h1M527 371.5h1M625 371.5h1M643 371.5h1M695 371.5h1M1056 371.5h1M1084 371.5h1M284 372.5h1M321 372.5h1M528 372.5h1M625 372.5h1M644 372.5h1M695 372.5h1M1057 372.5h1M1083 372.5h1M285 373.5h1M320 373.5h1M529 373.5h1M624 373.5h1M645 373.5h1M694 373.5h1M1057 373.5h1M1081 373.5h2M285 374.5h1M320 374.5h1M530 374.5h1M623 374.5h1M646 374.5h1M694 374.5h1M1058 374.5h1M1079 374.5h2M286 375.5h1M319 375.5h1M530 375.5h1M623 375.5h1M647 375.5h1M693 375.5h1M1059 375.5h1M1077 375.5h2M286 376.5h1M319 376.5h1M531 376.5h1M622 376.5h1M648 376.5h1M693 376.5h1M1059 376.5h1M1075 376.5h2M287 377.5h1M318 377.5h1M531 377.5h1M621 377.5h1M649 377.5h1M693 377.5h1M1060 377.5h1M1073 377.5h2M288 378.5h1M318 378.5h1M532 378.5h1M621 378.5h1M650 378.5h1M692 378.5h1M1061 378.5h1M1072 378.5h1M288 379.5h1M317 379.5h1M532 379.5h1M620 379.5h1M651 379.5h1M692 379.5h1M1061 379.5h1M1071 379.5h1M289 380.5h1M316 380.5h1M533 380.5h1M619 380.5h1M652 380.5h2M691 380.5h1M1062 380.5h1M1070 380.5h1M290 381.5h1M316 381.5h1M533 381.5h1M619 381.5h1M654 381.5h1M691 381.5h1M1063 381.5h1M1068 381.5h2M290 382.5h1M315 382.5h1M534 382.5h1M618 382.5h1M655 382.5h1M690 382.5h1M1064 382.5h1M1067 382.5h1M291 383.5h1M315 383.5h1M534 383.5h1M616 383.5h2M656 383.5h1M690 383.5h1M1064 383.5h1M1066 383.5h1M291 384.5h1M314 384.5h1M535 384.5h1M615 384.5h1M657 384.5h1M689 384.5h1M1065 384.5h1M292 385.5h1M314 385.5h1M535 385.5h1M613 385.5h2M658 385.5h2M688 385.5h1M293 386.5h2M313 386.5h1M536 386.5h1M612 386.5h1M660 386.5h2M687 386.5h1M295 387.5h1M312 387.5h1M536 387.5h1M610 387.5h2M662 387.5h2M686 387.5h1M296 388.5h1M311 388.5h1M537 388.5h1M609 388.5h1M664 388.5h2M685 388.5h1M297 389.5h2M310 389.5h1M537 389.5h1M607 389.5h2M666 389.5h2M684 389.5h1M299 390.5h1M308 390.5h2M538 390.5h1M606 390.5h1M668 390.5h1M683 390.5h1M300 391.5h1M307 391.5h1M538 391.5h1M604 391.5h2M669 391.5h2M682 391.5h1M301 392.5h2M306 392.5h1M539 392.5h1M603 392.5h1M671 392.5h2M681 392.5h1M303 393.5h1M305 393.5h1M539 393.5h1M601 393.5h2M673 393.5h2M680 393.5h1M304 394.5h1M540 394.5h1M600 394.5h1M675 394.5h2M678 394.5h2M540 395.5h1M599 395.5h1M677 395.5h1M541 396.5h1M597 396.5h2M541 397.5h1M596 397.5h1M542 398.5h1M595 398.5h1M542 399.5h1M593 399.5h2M543 400.5h1M591 400.5h2M543 401.5h1M589 401.5h2M544 402.5h1M587 402.5h2M544 403.5h1M585 403.5h2M545 404.5h1M575 404.5h10M545 405.5h1M573 405.5h2M546 406.5h1M572 406.5h1M546 407.5h1M570 407.5h2M547 408.5h1M569 408.5h1M547 409.5h1M567 409.5h2M548 410.5h3M565 410.5h2M551 411.5h5M561 411.5h4M556 412.5h5" fill="none" stroke="#ff4500" stroke-width="1" shape-rendering="crispEdges"/>
<g id="candles">
<rect x="8" y="193" width="1" height="22" fill="#ff4500"/>
<rect x="7" y="201" width="3" height="3" fill="#ff4500"/>
<rect x="12" y="197" width="1" height="14" fill="#ff4500"/>
<rect x="11" y="197" width="3" height="9" fill="#ff4500"/>
<rect x="16" y="128" width="1" height="63" fill="#ff4500"/>
<rect x="15" y="140" width="3" height="49" fill="#ff4500"/>
<rect x="20" y="128" width="1" height="26" fill="#32cd32"/>
<rect x="19" y="141" width="3" height="2" fill="#32cd32"/>
<rect x="24" y="128" width="1" height="18" fill="#ff4500"/>
<rect x="23" y="128" width="3" height="17" fill="#ff4500"/>
<rect x="28" y="128" width="1" height="8" fill="#ff4500"/>
<rect x="27" y="128" width="3" height="8" fill="#ff4500"/>
<rect x="32" y="128" width="1" height="19" fill="#32cd32"/>
<rect x="31" y="128" width="3" height="12" fill="#32cd32"/>
<rect x="36" y="128" width="1" height="24" fill="#000000"/>
<rect x="35" y="139" width="3" height="1" fill="#000000"/>
<rect x="40" y="128" width="1" height="22" fill="#ff4500"/>
<rect x="39" y="128" width="3" height="13" fill="#ff4500"/>
<rect x="44" y="128" width="1" height="23" fill="#32cd32"/>
<rect x="43" y="128" width="3" height="1" fill="#32cd32"/>
<rect x="48" y="128" width="1" height="24" fill="#ff4500"/>
<rect x="47" y="128" width="3" height="1" fill="#ff4500"/>
<rect x="52" y="128" width="1" height="14" fill="#32cd32"/>
<rect x="51" y="128" width="3" height="1" fill="#32cd32"/>
<rect x="68" y="128" width="1" height="23" fill="#32cd32"/>
<rect x="67" y="128" width="3" height="1" fill="#32cd32"/>
<rect x="72" y="128" width="1" height="54" fill="#32cd32"/>
<rect x="71" y="128" width="3" height="54" fill="#32cd32"/>
<rect x="76" y="128" width="1" height="54" fill="#ff4500"/>
<rect x="75" y="128" width="3" height="54" fill="#ff4500"/>
<rect x="88" y="128" width="1" height="29" fill="#32cd32"/>
<rect x="87" y="128" width="3" height="15" fill="#32cd32"/>
<rect x="92" y="128" width="1" height="16" fill="#ff4500"/>
<rect x="91" y="137" width="3" height="6" fill="#ff4500"/>
<rect x="96" y="128" width="1" height="11" fill="#ff4500"/>
<rect x="95" y="128" width="3" height="11" fill="#ff4500"/>
<rect x="104" y="128" width="1" height="21" fill="#32cd32"/>
<rect x="103" y="128" width="3" height="18" fill="#32cd32"/>
<rect x="108" y="138" width="1" height="13" fill="#ff4500"/>
<rect x="107" y="145" width="3" height="2" fill="#ff4500"/>
<rect x="112" y="139" width="1" height="17" fill="#ff4500"/>
<rect x="111" y="139" width="3" height="7" fill="#ff4500"/>
<rect x="116" y="137" width="1" height="10" fill="#32cd32"/>
<rect x="115" y="139" width="3" height="4" fill="#32cd32"/>
<rect x="120" y="137" width="1" height="24" fill="#32cd32"/>
<rect x="119" y="141" width="3" height="8" fill="#32cd32"/>
<rect x="124" y="128" width="1" height="27" fill="#ff4500"/>
<rect x="123" y="143" width="3" height="8" fill="#ff4500"/>
<rect x="128" y="128" width="1" height="26" fill="#000000"/>
<rect x="127" y="142" width="3" height="1" fill="#000000"/>
<rect x="132" y="139" width="1" height="72" fill="#32cd32"/>
<rect x="131" y="141" width="3" height="40" fill="#32cd32"/>
<rect x="136" y="165" width="1" height="24" fill="#ff4500"/>
<rect x="135" y="173" width="3" height="9" fill="#ff4500"/>
<rect x="140" y="146" width="1" height="35" fill="#ff4500"/>
<rect x="139" y="166" width="3" height="8" fill="#ff4500"/>
<rect x="144" y="156" width="1" height="31" fill="#ff4500"/>
<rect x="143" y="159" width="3" height="10" fill="#ff4500"/>
<rect x="148" y="128" width="1" height="37" fill="#ff4500"/>
<rect x="147" y="128" width="3" height="34" fill="#ff4500"/>
<rect x="152" y="128" width="1" height="11" fill="#32cd32"/>
<rect x="151" y="128" width="3" height="11" fill="#32cd32"/>
<rect x="156" y="128" width="1" height="11" fill="#32cd32"/>
<rect x="155" y="128" width="3" height="11" fill="#32cd32"/>
<rect x="160" y="128" width="1" height="37" fill="#32cd32"/>
<rect x="159" y="138" width="3" height="14" fill="#32cd32"/>
<rect x="164" y="141" width="1" height="44" fill="#32cd32"/>
<rect x="163" y="151" width="3" height="22" fill="#32cd32"/>
<rect x="168" y="163" width="1" height="28" fill="#32cd32"/>
<rect x="167" y="171" width="3" height="16" fill="#32cd32"/>
<rect x="172" y="182" width="1" height="9" fill="#32cd32"/>
<rect x="171" y="184" width="3" height="5" fill="#32cd32"/>
<rect x="176" y="175" width="1" height="30" fill="#ff4500"/>
<rect x="175" y="182" width="3" height="9" fill="#ff4500"/>
<rect x="180" y="173" width="1" height="22" fill="#32cd32"/>
<rect x="179" y="181" width="3" height="14" fill="#32cd32"/>
<rect x="184" y="191" width="1" height="71" fill="#32cd32"/>
<rect x="183" y="194" width="3" height="41" fill="#32cd32"/>
<rect x="188" y="221" width="1" height="13" fill="#ff4500"/>
<rect x="187" y="223" width="3" height="11" fill="#ff4500"/>
<rect x="192" y="221" width="1" height="24" fill="#32cd32"/>
<rect x="191" y="222" width="3" height="20" fill="#32cd32"/>
<rect x="196" y="232" width="1" height="22" fill="#32cd32"/>
<rect x="195" y="240" width="3" height="3" fill="#32cd32"/>
<rect x="200" y="206" width="1" height="37" fill="#ff4500"/>
<rect x="199" y="223" width="3" height="20" fill="#ff4500"/>
<rect x="204" y="219" width="1" height="35" fill="#32cd32"/>
<rect x="203" y="226" width="3" height="14" fill="#32cd32"/>
<rect x="208" y="213" width="1" height="36" fill="#ff4500"/>
<rect x="207" y="228" width="3" height="13" fill="#ff4500"/>
<rect x="212" y="226" width="1" height="119" fill="#32cd32"/>
<rect x="211" y="229" width="3" height="90" fill="#32cd32"/>
<rect x="216" y="289" width="1" height="31" fill="#ff4500"/>
<rect x="215" y="299" width="3" height="21" fill="#ff4500"/>
<rect x="220" y="285" width="1" height="27" fill="#32cd32"/>
<rect x="219" y="299" width="3" height="8" fill="#32cd32"/>
<rect x="224" y="304" width="1" height="111" fill="#32cd32"/>
<rect x="223" y="306" width="3" height="99" fill="#32cd32"/>
<rect x="228" y="367" width="1" height="72" fill="#ff4500"/>
<rect x="227" y="395" width="3" height="14" fill="#ff4500"/>
<rect x="232" y="395" width="1" height="68" fill="#32cd32"/>
<rect x="231" y="396" width="3" height="61" fill="#32cd32"/>
<rect x="236" y="425" width="1" height="48" fill="#32cd32"/>
<rect x="235" y="454" width="3" height="13" fill="#32cd32"/>
<rect x="240" y="365" width="1" height="103" fill="#ff4500"/>
<rect x="239" y="398" width="3" height="68" fill="#ff4500"/>
<rect x="244" y="395" width="1" height="61" fill="#32cd32"/>
<rect x="243" y="397" width="3" height="47" fill="#32cd32"/>
<rect x="248" y="406" width="1" height="54" fill="#ff4500"/>
<rect x="247" y="419" width="3" height="17" fill="#ff4500"/>
<rect x="252" y="396" width="1" height="29" fill="#ff4500"/>
<rect x="251" y="406" width="3" height="16" fill="#ff4500"/>
<rect x="256" y="391" width="1" height="35" fill="#32cd32"/>
<rect x="255" y="408" width="3" height="12" fill="#32cd32"/>
<rect x="260" y="397" width="1" height="39" fill="#ff4500"/>
<rect x="259" y="406" width="3" height="15" fill="#ff4500"/>
<rect x="264" y="395" width="1" height="16" fill="#ff4500"/>
<rect x="263" y="404" width="3" height="4" fill="#ff4500"/>
<rect x="268" y="382" width="1" height="28" fill="#ff4500"/>
<rect x="267" y="382" width="3" height="24" fill="#ff4500"/>
<rect x="272" y="367" width="1" height="26" fill="#ff4500"/>
<rect x="271" y="369" width="3" height="16" fill="#ff4500"/>
<rect x="276" y="347" width="1" height="24" fill="#ff4500"/>
<rect x="275" y="357" width="3" height="13" fill="#ff4500"/>
<rect x="280" y="357" width="1" height="31" fill="#32cd32"/>
<rect x="279" y="359" width="3" height="10" fill="#32cd32"/>
<rect x="284" y="345" width="1" height="38" fill="#ff4500"/>
<rect x="283" y="362" width="3" height="8" fill="#ff4500"/>
<rect x="288" y="349" width="1" height="46" fill="#ff4500"/>
<rect x="287" y="354" width="3" height="11" fill="#ff4500"/>
<rect x="292" y="352" width="1" height="34" fill="#32cd32"/>
<rect x="291" y="352" width="3" height="17" fill="#32cd32"/>
<rect x="296" y="365" width="1" height="27" fill="#32cd32"/>
<rect x="295" y="368" width="3" height="7" fill="#32cd32"/>
<rect x="300" y="340" width="1" height="37" fill="#ff4500"/>
<rect x="299" y="354" width="3" height="22" fill="#ff4500"/>
<rect x="304" y="342" width="1" height="30" fill="#ff4500"/>
<rect x="303" y="352" width="3" height="6" fill="#ff4500"/>
<rect x="308" y="312" width="1" height="68" fill="#ff4500"/>
<rect x="307" y="328" width="3" height="27" fill="#ff4500"/>
<rect x="312" y="290" width="1" height="47" fill="#ff4500"/>
<rect x="311" y="319" width="3" height="10" fill="#ff4500"/>
<rect x="316" y="291" width="1" height="54" fill="#ff4500"/>
<rect x="315" y="319" width="3" height="2" fill="#ff4500"/>
<rect x="320" y="318" width="1" height="24" fill="#000000"/>
<rect x="319" y="319" width="3" height="1" fill="#000000"/>
<rect x="324" y="287" width="1" height="38" fill="#ff4500"/>
<rect x="323" y="288" width="3" height="34" fill="#ff4500"/>
<rect x="328" y="288" width="1" height="50" fill="#32cd32"/>
<rect x="327" y="288" width="3" height="45" fill="#32cd32"/>
<rect x="332" y="319" width="1" height="21" fill="#ff4500"/>
<rect x="331" y="320" width="3" height="14" fill="#ff4500"/>
<rect x="336" y="317" width="1" height="17" fill="#32cd32"/>
<rect x="335" y="321" width="3" height="7" fill="#32cd32"/>
<rect x="340" y="329" width="1" height="13" fill="#32cd32"/>
<rect x="339" y="330" width="3" height="7" fill="#32cd32"/>
<rect x="344" y="335" width="1" height="32" fill="#32cd32"/>
<rect x="343" y="338" width="3" height="15" fill="#32cd32"/>
<rect x="348" y="344" width="1" height="15" fill="#ff4500"/>
<rect x="347" y="347" width="3" height="6" fill="#ff4500"/>
<rect x="352" y="319" width="1" height="31" fill="#ff4500"/>
<rect x="351" y="330" width="3" height="20" fill="#ff4500"/>
<rect x="356" y="327" width="1" height="8" fill="#32cd32"/>
<rect x="355" y="328" width="3" height="7" fill="#32cd32"/>
<rect x="360" y="333" width="1" height="21" fill="#32cd32"/>
<rect x="359" y="334" width="3" height="11" fill="#32cd32"/>
<rect x="364" y="344" width="1" height="15" fill="#32cd32"/>
<rect x="363" y="344" width="3" height="14" fill="#32cd32"/>
<rect x="368" y="338" width="1" height="23" fill="#ff4500"/>
<rect x="367" y="350" width="3" height="7" fill="#ff4500"/>
<rect x="372" y="347" width="1" height="53" fill="#32cd32"/>
<rect x="371" y="349" width="3" height="30" fill="#32cd32"/>
<rect x="376" y="337" width="1" height="52" fill="#ff4500"/>
<rect x="375" y="345" width="3" height="34" fill="#ff4500"/>
<rect x="380" y="286" width="1" height="62" fill="#ff4500"/>
<rect x="379" y="314" width="3" height="33" fill="#ff4500"/>
<rect x="384" y="297" width="1" height="41" fill="#32cd32"/>
<rect x="383" y="311" width="3" height="4" fill="#32cd32"/>
<rect x="388" y="313" width="1" height="30" fill="#32cd32"/>
<rect x="387" y="314" width="3" height="27" fill="#32cd32"/>
<rect x="392" y="326" width="1" height="38" fill="#ff4500"/>
<rect x="391" y="330" width="3" height="10" fill="#ff4500"/>
<rect x="396" y="304" width="1" height="46" fill="#ff4500"/>
<rect x="395" y="315" width="3" height="19" fill="#ff4500"/>
<rect x="400" y="268" width="1" height="53" fill="#ff4500"/>
<rect x="399" y="289" width="3" height="28" fill="#ff4500"/>
<rect x="404" y="279" width="1" height="66" fill="#32cd32"/>
<rect x="403" y="290" width="3" height="44" fill="#32cd32"/>
<rect x="408" y="333" width="1" height="107" fill="#32cd32"/>
<rect x="407" y="334" width="3" height="71" fill="#32cd32"/>
<rect x="412" y="351" width="1" height="54" fill="#ff4500"/>
<rect x="411" y="362" width="3" height="43" fill="#ff4500"/>
<rect x="416" y="336" width="1" height="42" fill="#ff4500"/>
<rect x="415" y="337" width="3" height="26" fill="#ff4500"/>
<rect x="420" y="323" width="1" height="21" fill="#ff4500"/>
<rect x="419" y="324" width="3" height="17" fill="#ff4500"/>
<rect x="424" y="304" width="1" height="31" fill="#ff4500"/>
<rect x="423" y="308" width="3" height="18" fill="#ff4500"/>
<rect x="428" y="304" width="1" height="6" fill="#ff4500"/>
<rect x="427" y="305" width="3" height="4" fill="#ff4500"/>
<rect x="432" y="317" width="1" height="22" fill="#32cd32"/>
<rect x="431" y="319" width="3" height="9" fill="#32cd32"/>
<rect x="436" y="321" width="1" height="13" fill="#ff4500"/>
<rect x="435" y="324" width="3" height="4" fill="#ff4500"/>
<rect x="440" y="312" width="1" height="13" fill="#ff4500"/>
<rect x="439" y="319" width="3" height="6" fill="#ff4500"/>
<rect x="444" y="305" width="1" height="18" fill="#ff4500"/>
<rect x="443" y="307" width="3" height="15" fill="#ff4500"/>
<rect x="448" y="292" width="1" height="21" fill="#ff4500"/>
<rect x="447" y="292" width="3" height="16" fill="#ff4500"/>
<rect x="452" y="278" width="1" height="23" fill="#ff4500"/>
<rect x="451" y="282" width="3" height="13" fill="#ff4500"/>
<rect x="456" y="283" width="1" height="21" fill="#32cd32"/>
<rect x="455" y="283" width="3" height="18" fill="#32cd32"/>
<rect x="460" y="291" width="1" height="34" fill="#32cd32"/>
<rect x="459" y="299" width="3" height="11" fill="#32cd32"/>
<rect x="464" y="310" width="1" height="32" fill="#32cd32"/>
<rect x="463" y="310" width="3" height="30" fill="#32cd32"/>
<rect x="468" y="321" width="1" height="49" fill="#32cd32"/>
<rect x="467" y="337" width="3" height="19" fill="#32cd32"/>
<rect x="472" y="354" width="1" height="23" fill="#32cd32"/>
<rect x="471" y="355" width="3" height="9" fill="#32cd32"/>
<rect x="476" y="348" width="1" height="25" fill="#32cd32"/>
<rect x="475" y="362" width="3" height="11" fill="#32cd32"/>
<rect x="480" y="362" width="1" height="51" fill="#32cd32"/>
<rect x="479" y="372" width="3" height="23" fill="#32cd32"/>
<rect x="484" y="370" width="1" height="42" fill="#32cd32"/>
<rect x="483" y="393" width="3" height="10" fill="#32cd32"/>
<rect x="488" y="375" width="1" height="57" fill="#32cd32"/>
<rect x="487" y="402" width="3" height="17" fill="#32cd32"/>
<rect x="492" y="354" width="1" height="78" fill="#ff4500"/>
<rect x="491" y="367" width="3" height="49" fill="#ff4500"/>
<rect x="496" y="326" width="1" height="43" fill="#ff4500"/>
<rect x="495" y="360" width="3" height="8" fill="#ff4500"/>
<rect x="500" y="352" width="1" height="41" fill="#ff4500"/>
<rect x="499" y="359" width="3" height="4" fill="#ff4500"/>
<rect x="504" y="360" width="1" height="103" fill="#32cd32"/>
<rect x="503" y="360" width="3" height="94" fill="#32cd32"/>
<rect x="508" y="375" width="1" height="64" fill="#ff4500"/>
<rect x="507" y="395" width="3" height="44" fill="#ff4500"/>
<rect x="512" y="396" width="1" height="32" fill="#32cd32"/>
<rect x="511" y="396" width="3" height="17" fill="#32cd32"/>
<rect x="516" y="405" width="1" height="14" fill="#32cd32"/>
<rect x="515" y="412" width="3" height="5" fill="#32cd32"/>
<rect x="520" y="399" width="1" height="20" fill="#ff4500"/>
<rect x="519" y="404" width="3" height="12" fill="#ff4500"/>
<rect x="524" y="399" width="1" height="30" fill="#32cd32"/>
<rect x="523" y="403" width="3" height="18" fill="#32cd32"/>
<rect x="528" y="415" width="1" height="32" fill="#32cd32"/>
<rect x="527" y="418" width="3" height="15" fill="#32cd32"/>
<rect x="532" y="416" width="1" height="23" fill="#ff4500"/>
<rect x="531" y="421" width="3" height="11" fill="#ff4500"/>
<rect x="536" y="419" width="1" height="99" fill="#32cd32"/>
<rect x="535" y="421" width="3" height="59" fill="#32cd32"/>
<rect x="540" y="467" width="1" height="42" fill="#32cd32"/>
<rect x="539" y="475" width="3" height="10" fill="#32cd32"/>
<rect x="544" y="451" width="1" height="47" fill="#ff4500"/>
<rect x="543" y="454" width="3" height="32" fill="#ff4500"/>
<rect x="548" y="444" width="1" height="46" fill="#ff4500"/>
<rect x="547" y="452" width="3" height="4" fill="#ff4500"/>
<rect x="552" y="361" width="1" height="108" fill="#ff4500"/>
<rect x="551" y="389" width="3" height="66" fill="#ff4500"/>
<rect x="556" y="348" width="1" height="56" fill="#ff4500"/>
<rect x="555" y="374" width="3" height="17" fill="#ff4500"/>
<rect x="560" y="360" width="1" height="35" fill="#32cd32"/>
<rect x="559" y="375" width="3" height="6" fill="#32cd32"/>
<rect x="564" y="369" width="1" height="38" fill="#ff4500"/>
<rect x="563" y="373" width="3" height="9" fill="#ff4500"/>
<rect x="568" y="333" width="1" height="56" fill="#ff4500"/>
<rect x="567" y="354" width="3" height="19" fill="#ff4500"/>
<rect x="572" y="327" width="1" height="33" fill="#ff4500"/>
<rect x="571" y="333" width="3" height="22" fill="#ff4500"/>
<rect x="576" y="316" width="1" height="26" fill="#ff4500"/>
<rect x="575" y="325" width="3" height="9" fill="#ff4500"/>
<rect x="580" y="316" width="1" height="66" fill="#32cd32"/>
<rect x="579" y="324" width="3" height="46" fill="#32cd32"/>
<rect x="584" y="368" width="1" height="16" fill="#32cd32"/>
<rect x="583" y="370" width="3" height="7" fill="#32cd32"/>
<rect x="588" y="369" width="1" height="22" fill="#32cd32"/>
<rect x="587" y="374" width="3" height="12" fill="#32cd32"/>
<rect x="592" y="382" width="1" height="9" fill="#32cd32"/>
<rect x="591" y="382" width="3" height="4" fill="#32cd32"/>
<rect x="596" y="353" width="1" height="30" fill="#ff4500"/>
<rect x="595" y="354" width="3" height="29" fill="#ff4500"/>
<rect x="600" y="348" width="1" height="19" fill="#32cd32"/>
<rect x="599" y="356" width="3" height="5" fill="#32cd32"/>
<rect x="604" y="336" width="1" height="25" fill="#ff4500"/>
<rect x="603" y="350" width="3" height="10" fill="#ff4500"/>
<rect x="608" y="346" width="1" height="8" fill="#32cd32"/>
<rect x="607" y="351" width="3" height="3" fill="#32cd32"/>
<rect x="612" y="351" width="1" height="15" fill="#32cd32"/>
<rect x="611" y="352" width="3" height="10" fill="#32cd32"/>
<rect x="616" y="351" width="1" height="21" fill="#ff4500"/>
<rect x="615" y="353" width="3" height="10" fill="#ff4500"/>
<rect x="620" y="338" width="1" height="28" fill="#32cd32"/>
<rect x="619" y="354" width="3" height="3" fill="#32cd32"/>
<rect x="624" y="349" width="1" height="37" fill="#32cd32"/>
<rect x="623" y="356" width="3" height="3" fill="#32cd32"/>
<rect x="628" y="352" width="1" height="49" fill="#32cd32"/>
<rect x="627" y="358" width="3" height="33" fill="#32cd32"/>
<rect x="632" y="388" width="1" height="46" fill="#32cd32"/>
<rect x="631" y="389" width="3" height="15" fill="#32cd32"/>
<rect x="636" y="401" width="1" height="36" fill="#32cd32"/>
<rect x="635" y="403" width="3" height="28" fill="#32cd32"/>
<rect x="640" y="412" width="1" height="35" fill="#ff4500"/>
<rect x="639" y="420" width="3" height="12" fill="#ff4500"/>
<rect x="644" y="404" width="1" height="41" fill="#32cd32"/>
<rect x="643" y="421" width="3" height="9" fill="#32cd32"/>
<rect x="648" y="427" width="1" height="72" fill="#32cd32"/>
<rect x="647" y="428" width="3" height="54" fill="#32cd32"/>
<rect x="652" y="433" width="1" height="57" fill="#ff4500"/>
<rect x="651" y="457" width="3" height="26" fill="#ff4500"/>
<rect x="656" y="369" width="1" height="108" fill="#ff4500"/>
<rect x="655" y="376" width="3" height="82" fill="#ff4500"/>
<rect x="660" y="365" width="1" height="42" fill="#32cd32"/>
<rect x="659" y="375" width="3" height="21" fill="#32cd32"/>
<rect x="664" y="370" width="1" height="42" fill="#ff4500"/>
<rect x="663" y="383" width="3" height="13" fill="#ff4500"/>
<rect x="668" y="361" width="1" height="70" fill="#32cd32"/>
<rect x="667" y="384" width="3" height="43" fill="#32cd32"/>
<rect x="672" y="419" width="1" height="22" fill="#ff4500"/>
<rect x="671" y="421" width="3" height="4" fill="#ff4500"/>
<rect x="676" y="413" width="1" height="19" fill="#32cd32"/>
<rect x="675" y="421" width="3" height="4" fill="#32cd32"/>
<rect x="680" y="306" width="1" height="39" fill="#ff4500"/>
<rect x="679" y="309" width="3" height="36" fill="#ff4500"/>
<rect x="684" y="276" width="1" height="36" fill="#ff4500"/>
<rect x="683" y="286" width="3" height="24" fill="#ff4500"/>
<rect x="688" y="241" width="1" height="50" fill="#ff4500"/>
<rect x="687" y="252" width="3" height="37" fill="#ff4500"/>
<rect x="692" y="187" width="1" height="67" fill="#ff4500"/>
<rect x="691" y="197" width="3" height="57" fill="#ff4500"/>
<rect x="696" y="197" width="1" height="17" fill="#32cd32"/>
<rect x="695" y="197" width="3" height="11" fill="#32cd32"/>
<rect x="700" y="191" width="1" height="19" fill="#ff4500"/>
<rect x="699" y="191" width="3" height="17" fill="#ff4500"/>
<rect x="704" y="191" width="1" height="21" fill="#32cd32"/>
<rect x="703" y="192" width="3" height="8" fill="#32cd32"/>
<rect x="708" y="200" width="1" height="21" fill="#32cd32"/>
<rect x="707" y="200" width="3" height="17" fill="#32cd32"/>
<rect x="712" y="195" width="1" height="31" fill="#ff4500"/>
<rect x="711" y="199" width="3" height="18" fill="#ff4500"/>
<rect x="716" y="197" width="1" height="30" fill="#32cd32"/>
<rect x="715" y="200" width="3" height="16" fill="#32cd32"/>
<rect x="720" y="215" width="1" height="45" fill="#32cd32"/>
<rect x="719" y="215" width="3" height="21" fill="#32cd32"/>
<rect x="724" y="226" width="1" height="25" fill="#32cd32"/>
<rect x="723" y="234" width="3" height="9" fill="#32cd32"/>
<rect x="728" y="234" width="1" height="19" fill="#ff4500"/>
<rect x="727" y="240" width="3" height="4" fill="#ff4500"/>
<rect x="732" y="239" width="1" height="24" fill="#32cd32"/>
<rect x="731" y="239" width="3" height="22" fill="#32cd32"/>
<rect x="736" y="206" width="1" height="64" fill="#ff4500"/>
<rect x="735" y="223" width="3" height="37" fill="#ff4500"/>
<rect x="740" y="224" width="1" height="36" fill="#32cd32"/>
<rect x="739" y="224" width="3" height="25" fill="#32cd32"/>
<rect x="744" y="249" width="1" height="30" fill="#32cd32"/>
<rect x="743" y="249" width="3" height="24" fill="#32cd32"/>
<rect x="748" y="271" width="1" height="55" fill="#32cd32"/>
<rect x="747" y="271" width="3" height="42" fill="#32cd32"/>
<rect x="752" y="284" width="1" height="30" fill="#ff4500"/>
<rect x="751" y="288" width="3" height="26" fill="#ff4500"/>
<rect x="756" y="267" width="1" height="24" fill="#ff4500"/>
<rect x="755" y="283" width="3" height="6" fill="#ff4500"/>
<rect x="760" y="229" width="1" height="62" fill="#ff4500"/>
<rect x="759" y="241" width="3" height="43" fill="#ff4500"/>
<rect x="764" y="228" width="1" height="17" fill="#ff4500"/>
<rect x="763" y="229" width="3" height="14" fill="#ff4500"/>
<rect x="768" y="228" width="1" height="15" fill="#32cd32"/>
<rect x="767" y="230" width="3" height="12" fill="#32cd32"/>
<rect x="772" y="232" width="1" height="11" fill="#ff4500"/>
<rect x="771" y="235" width="3" height="8" fill="#ff4500"/>
<rect x="776" y="209" width="1" height="41" fill="#ff4500"/>
<rect x="775" y="212" width="3" height="24" fill="#ff4500"/>
<rect x="780" y="204" width="1" height="18" fill="#32cd32"/>
<rect x="779" y="211" width="3" height="6" fill="#32cd32"/>
<rect x="784" y="200" width="1" height="19" fill="#ff4500"/>
<rect x="783" y="206" width="3" height="10" fill="#ff4500"/>
<rect x="788" y="202" width="1" height="9" fill="#ff4500"/>
<rect x="787" y="205" width="3" height="3" fill="#ff4500"/>
<rect x="792" y="206" width="1" height="17" fill="#32cd32"/>
<rect x="791" y="206" width="3" height="11" fill="#32cd32"/>
<rect x="796" y="199" width="1" height="27" fill="#ff4500"/>
<rect x="795" y="202" width="3" height="15" fill="#ff4500"/>
<rect x="800" y="188" width="1" height="24" fill="#32cd32"/>
<rect x="799" y="202" width="3" height="10" fill="#32cd32"/>
<rect x="804" y="171" width="1" height="43" fill="#ff4500"/>
<rect x="803" y="179" width="3" height="35" fill="#ff4500"/>
<rect x="808" y="143" width="1" height="43" fill="#ff4500"/>
<rect x="807" y="145" width="3" height="37" fill="#ff4500"/>
<rect x="812" y="119" width="1" height="56" fill="#32cd32"/>
<rect x="811" y="146" width="3" height="23" fill="#32cd32"/>
<rect x="816" y="135" width="1" height="34" fill="#ff4500"/>
<rect x="815" y="156" width="3" height="13" fill="#ff4500"/>
<rect x="820" y="149" width="1" height="22" fill="#000000"/>
<rect x="819" y="158" width="3" height="1" fill="#000000"/>
<rect x="824" y="155" width="1" height="29" fill="#32cd32"/>
<rect x="823" y="158" width="3" height="15" fill="#32cd32"/>
<rect x="828" y="170" width="1" height="58" fill="#32cd32"/>
<rect x="827" y="173" width="3" height="41" fill="#32cd32"/>
<rect x="832" y="173" width="1" height="38" fill="#000000"/>
<rect x="831" y="210" width="3" height="1" fill="#000000"/>
<rect x="836" y="206" width="1" height="37" fill="#32cd32"/>
<rect x="835" y="208" width="3" height="18" fill="#32cd32"/>
<rect x="840" y="206" width="1" height="37" fill="#32cd32"/>
<rect x="839" y="225" width="3" height="6" fill="#32cd32"/>
<rect x="844" y="210" width="1" height="42" fill="#32cd32"/>
<rect x="843" y="230" width="3" height="6" fill="#32cd32"/>
<rect x="848" y="210" width="1" height="31" fill="#ff4500"/>
<rect x="847" y="226" width="3" height="9" fill="#ff4500"/>
<rect x="852" y="227" width="1" height="31" fill="#32cd32"/>
<rect x="851" y="227" width="3" height="27" fill="#32cd32"/>
<rect x="856" y="246" width="1" height="34" fill="#32cd32"/>
<rect x="855" y="253" width="3" height="20" fill="#32cd32"/>
<rect x="860" y="272" width="1" height="8" fill="#ff4500"/>
<rect x="859" y="276" width="3" height="2" fill="#ff4500"/>
<rect x="864" y="256" width="1" height="22" fill="#ff4500"/>
<rect x="863" y="264" width="3" height="6" fill="#ff4500"/>
<rect x="868" y="260" width="1" height="18" fill="#32cd32"/>
<rect x="867" y="263" width="3" height="4" fill="#32cd32"/>
<rect x="872" y="265" width="1" height="46" fill="#32cd32"/>
<rect x="871" y="266" width="3" height="41" fill="#32cd32"/>
<rect x="876" y="297" width="1" height="14" fill="#ff4500"/>
<rect x="875" y="301" width="3" height="7" fill="#ff4500"/>
<rect x="880" y="291" width="1" height="15" fill="#ff4500"/>
<rect x="879" y="293" width="3" height="10" fill="#ff4500"/>
<rect x="884" y="277" width="1" height="18" fill="#ff4500"/>
<rect x="883" y="283" width="3" height="11" fill="#ff4500"/>
<rect x="888" y="271" width="1" height="20" fill="#32cd32"/>
<rect x="887" y="282" width="3" height="9" fill="#32cd32"/>
<rect x="892" y="269" width="1" height="38" fill="#ff4500"/>
<rect x="891" y="273" width="3" height="19" fill="#ff4500"/>
<rect x="896" y="251" width="1" height="29" fill="#ff4500"/>
<rect x="895" y="260" width="3" height="13" fill="#ff4500"/>
<rect x="900" y="213" width="1" height="48" fill="#ff4500"/>
<rect x="899" y="219" width="3" height="42" fill="#ff4500"/>
<rect x="904" y="215" width="1" height="35" fill="#32cd32"/>
<rect x="903" y="219" width="3" height="23" fill="#32cd32"/>
<rect x="908" y="225" width="1" height="30" fill="#ff4500"/>
<rect x="907" y="231" width="3" height="12" fill="#ff4500"/>
<rect x="912" y="219" width="1" height="32" fill="#32cd32"/>
<rect x="911" y="230" width="3" height="8" fill="#32cd32"/>
<rect x="916" y="195" width="1" height="49" fill="#ff4500"/>
<rect x="915" y="211" width="3" height="30" fill="#ff4500"/>
<rect x="920" y="150" width="1" height="70" fill="#ff4500"/>
<rect x="919" y="160" width="3" height="51" fill="#ff4500"/>
<rect x="924" y="139" width="1" height="89" fill="#32cd32"/>
<rect x="923" y="159" width="3" height="51" fill="#32cd32"/>
<rect x="928" y="189" width="1" height="31" fill="#ff4500"/>
<rect x="927" y="202" width="3" height="8" fill="#ff4500"/>
<rect x="932" y="189" width="1" height="44" fill="#32cd32"/>
<rect x="931" y="201" width="3" height="23" fill="#32cd32"/>
<rect x="936" y="219" width="1" height="59" fill="#32cd32"/>
<rect x="935" y="223" width="3" height="24" fill="#32cd32"/>
<rect x="940" y="243" width="1" height="13" fill="#32cd32"/>
<rect x="939" y="246" width="3" height="3" fill="#32cd32"/>
<rect x="944" y="244" width="1" height="26" fill="#32cd32"/>
<rect x="943" y="248" width="3" height="8" fill="#32cd32"/>
<rect x="948" y="254" width="1" height="12" fill="#32cd32"/>
<rect x="947" y="258" width="3" height="4" fill="#32cd32"/>
<rect x="952" y="256" width="1" height="22" fill="#ff4500"/>
<rect x="951" y="265" width="3" height="8" fill="#ff4500"/>
<rect x="956" y="265" width="1" height="15" fill="#32cd32"/>
<rect x="955" y="265" width="3" height="14" fill="#32cd32"/>
<rect x="960" y="269" width="1" height="39" fill="#32cd32"/>
<rect x="959" y="278" width="3" height="15" fill="#32cd32"/>
<rect x="964" y="282" width="1" height="15" fill="#ff4500"/>
<rect x="963" y="286" width="3" height="7" fill="#ff4500"/>
<rect x="968" y="284" width="1" height="17" fill="#32cd32"/>
<rect x="967" y="285" width="3" height="7" fill="#32cd32"/>
<rect x="972" y="282" width="1" height="28" fill="#32cd32"/>
<rect x="971" y="288" width="3" height="11" fill="#32cd32"/>
<rect x="976" y="230" width="1" height="69" fill="#ff4500"/>
<rect x="975" y="262" width="3" height="37" fill="#ff4500"/>
<rect x="980" y="258" width="1" height="51" fill="#32cd32"/>
<rect x="979" y="261" width="3" height="36" fill="#32cd32"/>
<rect x="984" y="297" width="1" height="115" fill="#32cd32"/>
<rect x="983" y="297" width="3" height="85" fill="#32cd32"/>
<rect x="988" y="372" width="1" height="103" fill="#32cd32"/>
<rect x="987" y="382" width="3" height="71" fill="#32cd32"/>
<rect x="992" y="330" width="1" height="136" fill="#ff4500"/>
<rect x="991" y="341" width="3" height="113" fill="#ff4500"/>
<rect x="996" y="334" width="1" height="89" fill="#32cd32"/>
<rect x="995" y="343" width="3" height="71" fill="#32cd32"/>
<rect x="1000" y="343" width="1" height="70" fill="#ff4500"/>
<rect x="999" y="376" width="3" height="37" fill="#ff4500"/>
<rect x="1004" y="319" width="1" height="69" fill="#ff4500"/>
<rect x="1003" y="341" width="3" height="47" fill="#ff4500"/>
<rect x="1008" y="332" width="1" height="82" fill="#32cd32"/>
<rect x="1007" y="343" width="3" height="68" fill="#32cd32"/>
<rect x="1012" y="358" width="1" height="106" fill="#32cd32"/>
<rect x="1011" y="410" width="3" height="13" fill="#32cd32"/>
<rect x="1016" y="388" width="1" height="41" fill="#ff4500"/>
<rect x="1015" y="390" width="3" height="35" fill="#ff4500"/>
<rect x="1020" y="371" width="1" height="44" fill="#ff4500"/>
<rect x="1019" y="375" width="3" height="16" fill="#ff4500"/>
<rect x="1024" y="333" width="1" height="66" fill="#ff4500"/>
<rect x="1023" y="357" width="3" height="19" fill="#ff4500"/>
<rect x="1028" y="344" width="1" height="14" fill="#ff4500"/>
<rect x="1027" y="349" width="3" height="9" fill="#ff4500"/>
<rect x="1032" y="340" width="1" height="12" fill="#ff4500"/>
<rect x="1031" y="346" width="3" height="5" fill="#ff4500"/>
<rect x="1036" y="341" width="1" height="10" fill="#32cd32"/>
<rect x="1035" y="343" width="3" height="7" fill="#32cd32"/>
<rect x="1040" y="352" width="1" height="49" fill="#32cd32"/>
<rect x="1039" y="352" width="3" height="41" fill="#32cd32"/>
<rect x="1044" y="378" width="1" height="23" fill="#ff4500"/>
<rect x="1043" y="380" width="3" height="13" fill="#ff4500"/>
<rect x="1048" y="377" width="1" height="17" fill="#32cd32"/>
<rect x="1047" y="380" width="3" height="4" fill="#32cd32"/>
<rect x="1052" y="382" width="1" height="15" fill="#32cd32"/>
<rect x="1051" y="382" width="3" height="7" fill="#32cd32"/>
<rect x="1056" y="385" width="1" height="19" fill="#32cd32"/>
<rect x="1055" y="389" width="3" height="6" fill="#32cd32"/>
<rect x="1060" y="393" width="1" height="20" fill="#32cd32"/>
<rect x="1059" y="394" width="3" height="14" fill="#32cd32"/>
<rect x="1064" y="389" width="1" height="20" fill="#ff4500"/>
<rect x="1063" y="395" width="3" height="13" fill="#ff4500"/>
<rect x="1068" y="334" width="1" height="66" fill="#ff4500"/>
<rect x="1067" y="352" width="3" height="45" fill="#ff4500"/>
<rect x="1072" y="352" width="1" height="75" fill="#32cd32"/>
<rect x="1071" y="354" width="3" height="15" fill="#32cd32"/>
<rect x="1076" y="326" width="1" height="60" fill="#ff4500"/>
<rect x="1075" y="328" width="3" height="43" fill="#ff4500"/>
<rect x="1080" y="314" width="1" height="44" fill="#32cd32"/>
<rect x="1079" y="327" width="3" height="22" fill="#32cd32"/>
<rect x="1084" y="289" width="1" height="62" fill="#ff4500"/>
<rect x="1083" y="315" width="3" height="34" fill="#ff4500"/>
<rect x="1088" y="139" width="1" height="195" fill="#ff4500"/>
<rect x="1087" y="146" width="3" height="172" fill="#ff4500"/>
<rect x="1092" y="123" width="1" height="78" fill="#32cd32"/>
<rect x="1091" y="148" width="3" height="12" fill="#32cd32"/>
<rect x="1096" y="112" width="1" height="73" fill="#ff4500"/>
<rect x="1095" y="134" width="3" height="25" fill="#ff4500"/>
<rect x="1100" y="123" width="1" height="60" fill="#32cd32"/>
<rect x="1099" y="133" width="3" height="41" fill="#32cd32"/>
<rect x="1104" y="150" width="1" height="37" fill="#ff4500"/>
<rect x="1103" y="152" width="3" height="23" fill="#ff4500"/>
<rect x="1108" y="150" width="1" height="103" fill="#32cd32"/>
<rect x="1107" y="153" width="3" height="76" fill="#32cd32"/>
<rect x="1112" y="226" width="1" height="50" fill="#32cd32"/>
<rect x="1111" y="229" width="3" height="34" fill="#32cd32"/>
<rect x="1116" y="245" width="1" height="26" fill="#ff4500"/>
<rect x="1115" y="257" width="3" height="7" fill="#ff4500"/>
<rect x="1120" y="256" width="1" height="21" fill="#32cd32"/>
<rect x="1119" y="258" width="3" height="16" fill="#32cd32"/>
<rect x="1124" y="231" width="1" height="47" fill="#ff4500"/>
<rect x="1123" y="242" width="3" height="33" fill="#ff4500"/>
<rect x="1128" y="226" width="1" height="30" fill="#ff4500"/>
<rect x="1127" y="229" width="3" height="12" fill="#ff4500"/>
<rect x="1132" y="208" width="1" height="24" fill="#ff4500"/>
<rect x="1131" y="213" width="3" height="17" fill="#ff4500"/>
<rect x="1136" y="205" width="1" height="23" fill="#32cd32"/>
<rect x="1135" y="212" width="3" height="13" fill="#32cd32"/>
<rect x="1140" y="215" width="1" height="17" fill="#32cd32"/>
<rect x="1139" y="222" width="3" height="6" fill="#32cd32"/>
<rect x="1144" y="223" width="1" height="12" fill="#000000"/>
<rect x="1143" y="227" width="3" height="1" fill="#000000"/>
<rect x="1148" y="222" width="1" height="17" fill="#ff4500"/>
<rect x="1147" y="226" width="3" height="4" fill="#ff4500"/>
<rect x="1152" y="221" width="1" height="18" fill="#32cd32"/>
<rect x="1151" y="225" width="3" height="13" fill="#32cd32"/>
<rect x="1156" y="214" width="1" height="29" fill="#ff4500"/>
<rect x="1155" y="227" width="3" height="9" fill="#ff4500"/>
<rect x="1160" y="215" width="1" height="37" fill="#32cd32"/>
<rect x="1159" y="226" width="3" height="4" fill="#32cd32"/>
<rect x="1164" y="226" width="1" height="47" fill="#32cd32"/>
<rect x="1163" y="230" width="3" height="32" fill="#32cd32"/>
<rect x="1168" y="260" width="1" height="68" fill="#32cd32"/>
<rect x="1167" y="260" width="3" height="50" fill="#32cd32"/>
<rect x="1172" y="292" width="1" height="32" fill="#32cd32"/>
<rect x="1171" y="310" width="3" height="2" fill="#32cd32"/>
<rect x="1176" y="284" width="1" height="30" fill="#ff4500"/>
<rect x="1175" y="289" width="3" height="24" fill="#ff4500"/>
<rect x="1180" y="273" width="1" height="42" fill="#32cd32"/>
<rect x="1179" y="290" width="3" height="23" fill="#32cd32"/>
<rect x="1184" y="301" width="1" height="33" fill="#32cd32"/>
<rect x="1183" y="312" width="3" height="11" fill="#32cd32"/>
<rect x="1188" y="266" width="1" height="59" fill="#ff4500"/>
<rect x="1187" y="292" width="3" height="32" fill="#ff4500"/>
<rect x="1192" y="286" width="1" height="37" fill="#32cd32"/>
<rect x="1191" y="291" width="3" height="12" fill="#32cd32"/>
<rect x="1196" y="290" width="1" height="29" fill="#ff4500"/>
<rect x="1195" y="299" width="3" height="5" fill="#ff4500"/>
<rect x="1200" y="295" width="1" height="36" fill="#32cd32"/>
<rect x="1199" y="298" width="3" height="32" fill="#32cd32"/>
<rect x="1204" y="328" width="1" height="56" fill="#32cd32"/>
<rect x="1203" y="329" width="3" height="47" fill="#32cd32"/>
<rect x="1208" y="369" width="1" height="20" fill="#ff4500"/>
<rect x="1207" y="375" width="3" height="3" fill="#ff4500"/>
<rect x="1212" y="369" width="1" height="11" fill="#ff4500"/>
<rect x="1211" y="372" width="3" height="6" fill="#ff4500"/>
<rect x="1216" y="375" width="1" height="8" fill="#32cd32"/>
<rect x="1215" y="376" width="3" height="4" fill="#32cd32"/>
<rect x="1220" y="337" width="1" height="36" fill="#ff4500"/>
<rect x="1219" y="347" width="3" height="26" fill="#ff4500"/>
<rect x="1224" y="344" width="1" height="14" fill="#32cd32"/>
<rect x="1223" y="348" width="3" height="3" fill="#32cd32"/>
<rect x="1228" y="342" width="1" height="19" fill="#32cd32"/>
<rect x="1227" y="349" width="3" height="7" fill="#32cd32"/>
<rect x="1232" y="351" width="1" height="15" fill="#32cd32"/>
<rect x="1231" y="354" width="3" height="4" fill="#32cd32"/>
<rect x="1236" y="352" width="1" height="12" fill="#32cd32"/>
<rect x="1235" y="357" width="3" height="5" fill="#32cd32"/>
<rect x="1240" y="360" width="1" height="18" fill="#32cd32"/>
<rect x="1239" y="360" width="3" height="3" fill="#32cd32"/>
<rect x="1244" y="360" width="1" height="16" fill="#32cd32"/>
<rect x="1243" y="361" width="3" height="14" fill="#32cd32"/>
<rect x="1248" y="365" width="1" height="22" fill="#32cd32"/>
<rect x="1247" y="373" width="3" height="8" fill="#32cd32"/>
<rect x="1252" y="365" width="1" height="20" fill="#ff4500"/>
<rect x="1251" y="378" width="3" height="3" fill="#ff4500"/>
<rect x="1256" y="328" width="1" height="54" fill="#ff4500"/>
<rect x="1255" y="341" width="3" height="39" fill="#ff4500"/>
<rect x="1260" y="322" width="1" height="29" fill="#ff4500"/>
<rect x="1259" y="334" width="3" height="8" fill="#ff4500"/>
<rect x="1264" y="327" width="1" height="18" fill="#32cd32"/>
<rect x="1263" y="334" width="3" height="7" fill="#32cd32"/>
<rect x="1268" y="321" width="1" height="20" fill="#ff4500"/>
<rect x="1267" y="333" width="3" height="8" fill="#ff4500"/>
<rect x="1272" y="289" width="1" height="46" fill="#ff4500"/>
<rect x="1271" y="312" width="3" height="22" fill="#ff4500"/>
<rect x="1276" y="293" width="1" height="30" fill="#ff4500"/>
<rect x="1275" y="308" width="3" height="7" fill="#ff4500"/>
<rect x="1280" y="300" width="1" height="55" fill="#32cd32"/>
<rect x="1279" y="309" width="3" height="29" fill="#32cd32"/>
<rect x="1284" y="331" width="1" height="27" fill="#ff4500"/>
<rect x="1283" y="334" width="3" height="4" fill="#ff4500"/>
<rect x="1288" y="322" width="1" height="32" fill="#32cd32"/>
<rect x="1287" y="333" width="3" height="20" fill="#32cd32"/>
<rect x="1292" y="343" width="1" height="34" fill="#ff4500"/>
<rect x="1291" y="349" width="3" height="4" fill="#ff4500"/>
<rect x="1296" y="342" width="1" height="10" fill="#ff4500"/>
<rect x="1295" y="345" width="3" height="6" fill="#ff4500"/>
<rect x="1300" y="311" width="1" height="36" fill="#ff4500"/>
<rect x="1299" y="330" width="3" height="17" fill="#ff4500"/>
<rect x="1304" y="321" width="1" height="14" fill="#ff4500"/>
<rect x="1303" y="326" width="3" height="3" fill="#ff4500"/>
</g>
<g id="macd">
<rect x="8" y="555" width="1" height="33" fill="#c0c0c0"/>
<rect x="12" y="555" width="1" height="33" fill="#c0c0c0"/>
<rect x="16" y="555" width="1" height="32" fill="#c0c0c0"/>
<rect x="20" y="555" width="1" height="30" fill="#c0c0c0"/>
<rect x="24" y="555" width="1" height="28" fill="#c0c0c0"/>
<rect x="28" y="555" width="1" height="26" fill="#c0c0c0"/>
<rect x="32" y="555" width="1" height="25" fill="#c0c0c0"/>
<rect x="36" y="555" width="1" height="23" fill="#c0c0c0"/>
<rect x="40" y="555" width="1" height="22" fill="#c0c0c0"/>
<rect x="44" y="555" width="1" height="21" fill="#c0c0c0"/>
<rect x="48" y="555" width="1" height="19" fill="#c0c0c0"/>
<rect x="52" y="555" width="1" height="17" fill="#c0c0c0"/>
<rect x="56" y="555" width="1" height="16" fill="#c0c0c0"/>
<rect x="60" y="555" width="1" height="14" fill="#c0c0c0"/>
<rect x="64" y="555" width="1" height="13" fill="#c0c0c0"/>
<rect x="68" y="555" width="1" height="12" fill="#c0c0c0"/>
<rect x="72" y="555" width="1" height="11" fill="#c0c0c0"/>
<rect x="76" y="555" width="1" height="11" fill="#c0c0c0"/>
<rect x="80" y="555" width="1" height="10" fill="#c0c0c0"/>
<rect x="84" y="555" width="1" height="8" fill="#c0c0c0"/>
<rect x="88" y="555" width="1" height="8" fill="#c0c0c0"/>
<rect x="92" y="555" width="1" height="7" fill="#c0c0c0"/>
<rect x="96" y="555" width="1" height="6" fill="#c0c0c0"/>
<rect x="100" y="555" width="1" height="6" fill="#c0c0c0"/>
<rect x="104" y="555" width="1" height="6" fill="#c0c0c0"/>
<rect x="108" y="555" width="1" height="6" fill="#c0c0c0"/>
<rect x="112" y="555" width="1" height="7" fill="#c0c0c0"/>
<rect x="116" y="555" width="1" height="7" fill="#c0c0c0"/>
<rect x="120" y="555" width="1" height="7" fill="#c0c0c0"/>
<rect x="124" y="555" width="1" height="8" fill="#c0c0c0"/>
<rect x="128" y="555" width="1" height="8" fill="#c0c0c0"/>
<rect x="132" y="555" width="1" height="8" fill="#c0c0c0"/>
<rect x="136" y="555" width="1" height="8" fill="#c0c0c0"/>
<rect x="140" y="555" width="1" height="8" fill="#c0c0c0"/>
<rect x="144" y="555" width="1" height="7" fill="#c0c0c0"/>
<rect x="148" y="555" width="1" height="6" fill="#c0c0c0"/>
<rect x="152" y="555" width="1" height="6" fill="#c0c0c0"/>
<rect x="156" y="555" width="1" height="6" fill="#c0c0c0"/>
<rect x="160" y="555" width="1" height="6" fill="#c0c0c0"/>
<rect x="164" y="555" width="1" height="6" fill="#c0c0c0"/>
<rect x="168" y="555" width="1" height="6" fill="#c0c0c0"/>
<rect x="172" y="555" width="1" height="6" fill="#c0c0c0"/>
<rect x="176" y="555" width="1" height="7" fill="#c0c0c0"/>
<rect x="180" y="555" width="1" height="8" fill="#c0c0c0"/>
<rect x="184" y="555" width="1" height="9" fill="#c0c0c0"/>
<rect x="188" y="555" width="1" height="10" fill="#c0c0c0"/>
<rect x="192" y="555" width="1" height="11" fill="#c0c0c0"/>
<rect x="196" y="555" width="1" height="12" fill="#c0c0c0"/>
<rect x="200" y="555" width="1" height="12" fill="#c0c0c0"/>
<rect x="204" y="555" width="1" height="12" fill="#c0c0c0"/>
<rect x="208" y="555" width="1" height="13" fill="#c0c0c0"/>
<rect x="212" y="555" width="1" height="15" fill="#c0c0c0"/>
<rect x="216" y="555" width="1" height="16" fill="#c0c0c0"/>
<rect x="220" y="555" width="1" height="17" fill="#c0c0c0"/>
<rect x="224" y="555" width="1" height="20" fill="#c0c0c0"/>
<rect x="228" y="555" width="1" height="23" fill="#c0c0c0"/>
<rect x="232" y="555" width="1" height="26" fill="#c0c0c0"/>
<rect x="236" y="555" width="1" height="29" fill="#c0c0c0"/>
<rect x="240" y="555" width="1" height="30" fill="#c0c0c0"/>
<rect x="244" y="555" width="1" height="31" fill="#c0c0c0"/>
<rect x="248" y="555" width="1" height="30" fill="#c0c0c0"/>
<rect x="252" y="555" width="1" height="29" fill="#c0c0c0"/>
<rect x="256" y="555" width="1" height="28" fill="#c0c0c0"/>
<rect x="260" y="555" width="1" height="27" fill="#c0c0c0"/>
<rect x="264" y="555" width="1" height="25" fill="#c0c0c0"/>
<rect x="268" y="555" width="1" height="23" fill="#c0c0c0"/>
<rect x="272" y="555" width="1" height="21" fill="#c0c0c0"/>
<rect x="276" y="555" width="1" height="19" fill="#c0c0c0"/>
<rect x="280" y="555" width="1" height="17" fill="#c0c0c0"/>
<rect x="284" y="555" width="1" height="16" fill="#c0c0c0"/>
<rect x="288" y="555" width="1" height="14" fill="#c0c0c0"/>
<rect x="292" y="555" width="1" height="13" fill="#c0c0c0"/>
<rect x="296" y="555" width="1" height="11" fill="#c0c0c0"/>
<rect x="300" y="555" width="1" height="10" fill="#c0c0c0"/>
<rect x="304" y="555" width="1" height="8" fill="#c0c0c0"/>
<rect x="308" y="555" width="1" height="7" fill="#c0c0c0"/>
<rect x="312" y="555" width="1" height="5" fill="#c0c0c0"/>
<rect x="316" y="555" width="1" height="4" fill="#c0c0c0"/>
<rect x="320" y="555" width="1" height="3" fill="#c0c0c0"/>
<rect x="324" y="555" width="1" height="3" fill="#c0c0c0"/>
<rect x="328" y="555" width="1" height="2" fill="#c0c0c0"/>
<rect x="332" y="555" width="1" height="1" fill="#c0c0c0"/>
<rect x="336" y="554" width="1" height="2" fill="#c0c0c0"/>
<rect x="340" y="554" width="1" height="2" fill="#c0c0c0"/>
<rect x="344" y="554" width="1" height="2" fill="#c0c0c0"/>
<rect x="348" y="554" width="1" height="2" fill="#c0c0c0"/>
<rect x="352" y="554" width="1" height="2" fill="#c0c0c0"/>
<rect x="356" y="554" width="1" height="2" fill="#c0c0c0"/>
<rect x="360" y="554" width="1" height="2" fill="#c0c0c0"/>
<rect x="364" y="554" width="1" height="2" fill="#c0c0c0"/>
<rect x="368" y="554" width="1" height="2" fill="#c0c0c0"/>
<rect x="372" y="554" width="1" height="2" fill="#c0c0c0"/>
<rect x="376" y="554" width="1" height="2" fill="#c0c0c0"/>
<rect x="380" y="554" width="1" height="2" fill="#c0c0c0"/>
<rect x="384" y="555" width="1" height="1" fill="#c0c0c0"/>
<rect x="388" y="555" width="1" height="1" fill="#c0c0c0"/>
<rect x="392" y="555" width="1" height="1" fill="#c0c0c0"/>
<rect x="396" y="555" width="1" height="1" fill="#c0c0c0"/>
<rect x="400" y="555" width="1" height="1" fill="#c0c0c0"/>
<rect x="404" y="555" width="1" height="1" fill="#c0c0c0"/>
<rect x="408" y="555" width="1" height="1" fill="#c0c0c0"/>
<rect x="412" y="554" width="1" height="2" fill="#c0c0c0"/>
<rect x="416" y="554" width="1" height="2" fill="#c0c0c0"/>
<rect x="420" y="554" width="1" height="2" fill="#c0c0c0"/>
<rect x="424" y="554" width="1" height="2" fill="#c0c0c0"/>
<rect x="428" y="554" width="1" height="2" fill="#c0c0c0"/>
<rect x="432" y="554" width="1" height="2" fill="#c0c0c0"/>
<rect x="436" y="554" width="1" height="2" fill="#c0c0c0"/>
<rect x="440" y="554" width="1" height="2" fill="#c0c0c0"/>
<rect x="444" y="553" width="1" height="3" fill="#c0c0c0"/>
<rect x="448" y="553" width="1" height="3" fill="#c0c0c0"/>
<rect x="452" y="552" width="1" height="4" fill="#c0c0c0"/>
<rect x="456" y="552" width="1" height="4" fill="#c0c0c0"/>
<rect x="460" y="552" width="1" height="4" fill="#c0c0c0"/>
<rect x="464" y="552" width="1" height="4" fill="#c0c0c0"/>
<rect x="468" y="552" width="1" height="4" fill="#c0c0c0"/>
<rect x="472" y="553" width="1" height="3" fill="#c0c0c0"/>
<rect x="476" y="554" width="1" height="2" fill="#c0c0c0"/>
<rect x="480" y="555" width="1" height="2" fill="#c0c0c0"/>
<rect x="484" y="555" width="1" height="4" fill="#c0c0c0"/>
<rect x="488" y="555" width="1" height="6" fill="#c0c0c0"/>
<rect x="492" y="555" width="1" height="7" fill="#c0c0c0"/>
<rect x="496" y="555" width="1" height="7" fill="#c0c0c0"/>
<rect x="500" y="555" width="1" height="7" fill="#c0c0c0"/>
<rect x="504" y="555" width="1" height="7" fill="#c0c0c0"/>
<rect x="508" y="555" width="1" height="8" fill="#c0c0c0"/>
<rect x="512" y="555" width="1" height="9" fill="#c0c0c0"/>
<rect x="516" y="555" width="1" height="9" fill="#c0c0c0"/>
<rect x="520" y="555" width="1" height="10" fill="#c0c0c0"/>
<rect x="524" y="555" width="1" height="10" fill="#c0c0c0"/>
<rect x="528" y="555" width="1" height="11" fill="#c0c0c0"/>
<rect x="532" y="555" width="1" height="12" fill="#c0c0c0"/>
<rect x="536" y="555" width="1" height="13" fill="#c0c0c0"/>
<rect x="540" y="555" width="1" height="14" fill="#c0c0c0"/>
<rect x="544" y="555" width="1" height="13" fill="#c0c0c0"/>
<rect x="548" y="555" width="1" height="13" fill="#c0c0c0"/>
<rect x="552" y="555" width="1" height="11" fill="#c0c0c0"/>
<rect x="556" y="555" width="1" height="10" fill="#c0c0c0"/>
<rect x="560" y="555" width="1" height="8" fill="#c0c0c0"/>
<rect x="564" y="555" width="1" height="6" fill="#c0c0c0"/>
<rect x="568" y="555" width="1" height="4" fill="#c0c0c0"/>
<rect x="572" y="555" width="1" height="2" fill="#c0c0c0"/>
<rect x="576" y="555" width="1" height="1" fill="#c0c0c0"/>
<rect x="580" y="555" width="1" height="1" fill="#c0c0c0"/>
<rect x="584" y="554" width="1" height="2" fill="#c0c0c0"/>
<rect x="588" y="554" width="1" height="2" fill="#c0c0c0"/>
<rect x="592" y="554" width="1" height="2" fill="#c0c0c0"/>
<rect x="596" y="553" width="1" height="3" fill="#c0c0c0"/>
<rect x="600" y="553" width="1" height="3" fill="#c0c0c0"/>
<rect x="604" y="553" width="1" height="3" fill="#c0c0c0"/>
<rect x="608" y="553" width="1" height="3" fill="#c0c0c0"/>
<rect x="612" y="553" width="1" height="3" fill="#c0c0c0"/>
<rect x="616" y="553" width="1" height="3" fill="#c0c0c0"/>
<rect x="620" y="553" width="1" height="3" fill="#c0c0c0"/>
<rect x="624" y="553" width="1" height="3" fill="#c0c0c0"/>
<rect x="628" y="553" width="1" height="3" fill="#c0c0c0"/>
<rect x="632" y="553" width="1" height="3" fill="#c0c0c0"/>
<rect x="636" y="554" width="1" height="2" fill="#c0c0c0"/>
<rect x="640" y="555" width="1" height="2" fill="#c0c0c0"/>
<rect x="644" y="555" width="1" height="5" fill="#c0c0c0"/>
<rect x="648" y="555" width="1" height="6" fill="#c0c0c0"/>
<rect x="652" y="555" width="1" height="8" fill="#c0c0c0"/>
<rect x="656" y="555" width="1" height="7" fill="#c0c0c0"/>
<rect x="660" y="555" width="1" height="6" fill="#c0c0c0"/>
<rect x="664" y="555" width="1" height="6" fill="#c0c0c0"/>
<rect x="668" y="555" width="1" height="6" fill="#c0c0c0"/>
<rect x="672" y="555" width="1" height="5" fill="#c0c0c0"/>
<rect x="676" y="555" width="1" height="5" fill="#c0c0c0"/>
<rect x="680" y="555" width="1" height="4" fill="#c0c0c0"/>
<rect x="684" y="554" width="1" height="2" fill="#c0c0c0"/>
<rect x="688" y="550" width="1" height="6" fill="#c0c0c0"/>
<rect x="692" y="545" width="1" height="11" fill="#c0c0c0"/>
<rect x="696" y="542" width="1" height="14" fill="#c0c0c0"/>
<rect x="700" y="539" width="1" height="17" fill="#c0c0c0"/>
<rect x="704" y="537" width="1" height="19" fill="#c0c0c0"/>
<rect x="708" y="536" width="1" height="20" fill="#c0c0c0"/>
<rect x="712" y="535" width="1" height="21" fill="#c0c0c0"/>
<rect x="716" y="535" width="1" height="21" fill="#c0c0c0"/>
<rect x="720" y="536" width="1" height="20" fill="#c0c0c0"/>
<rect x="724" y="537" width="1" height="19" fill="#c0c0c0"/>
<rect x="728" y="538" width="1" height="18" fill="#c0c0c0"/>
<rect x="732" y="539" width="1" height="17" fill="#c0c0c0"/>
<rect x="736" y="540" width="1" height="16" fill="#c0c0c0"/>
<rect x="740" y="541" width="1" height="15" fill="#c0c0c0"/>
<rect x="744" y="543" width="1" height="13" fill="#c0c0c0"/>
<rect x="748" y="545" width="1" height="11" fill="#c0c0c0"/>
<rect x="752" y="548" width="1" height="8" fill="#c0c0c0"/>
<rect x="756" y="549" width="1" height="7" fill="#c0c0c0"/>
<rect x="760" y="549" width="1" height="7" fill="#c0c0c0"/>
<rect x="764" y="549" width="1" height="7" fill="#c0c0c0"/>
<rect x="768" y="549" width="1" height="7" fill="#c0c0c0"/>
<rect x="772" y="549" width="1" height="7" fill="#c0c0c0"/>
<rect x="776" y="548" width="1" height="8" fill="#c0c0c0"/>
<rect x="780" y="548" width="1" height="8" fill="#c0c0c0"/>
<rect x="784" y="548" width="1" height="8" fill="#c0c0c0"/>
<rect x="788" y="547" width="1" height="9" fill="#c0c0c0"/>
<rect x="792" y="547" width="1" height="9" fill="#c0c0c0"/>
<rect x="796" y="547" width="1" height="9" fill="#c0c0c0"/>
<rect x="800" y="547" width="1" height="9" fill="#c0c0c0"/>
<rect x="804" y="546" width="1" height="10" fill="#c0c0c0"/>
<rect x="808" y="545" width="1" height="11" fill="#c0c0c0"/>
<rect x="812" y="544" width="1" height="12" fill="#c0c0c0"/>
<rect x="816" y="544" width="1" height="12" fill="#c0c0c0"/>
<rect x="820" y="544" width="1" height="12" fill="#c0c0c0"/>
<rect x="824" y="544" width="1" height="12" fill="#c0c0c0"/>
<rect x="828" y="545" width="1" height="11" fill="#c0c0c0"/>
<rect x="832" y="547" width="1" height="9" fill="#c0c0c0"/>
<rect x="836" y="548" width="1" height="8" fill="#c0c0c0"/>
<rect x="840" y="549" width="1" height="7" fill="#c0c0c0"/>
<rect x="844" y="551" width="1" height="5" fill="#c0c0c0"/>
<rect x="848" y="553" width="1" height="3" fill="#c0c0c0"/>
<rect x="852" y="554" width="1" height="2" fill="#c0c0c0"/>
<rect x="856" y="555" width="1" height="1" fill="#c0c0c0"/>
<rect x="860" y="555" width="1" height="2" fill="#c0c0c0"/>
<rect x="864" y="555" width="1" height="3" fill="#c0c0c0"/>
<rect x="868" y="555" width="1" height="4" fill="#c0c0c0"/>
<rect x="872" y="555" width="1" height="5" fill="#c0c0c0"/>
<rect x="876" y="555" width="1" height="7" fill="#c0c0c0"/>
<rect x="880" y="555" width="1" height="8" fill="#c0c0c0"/>
<rect x="884" y="555" width="1" height="8" fill="#c0c0c0"/>
<rect x="888" y="555" width="1" height="8" fill="#c0c0c0"/>
<rect x="892" y="555" width="1" height="7" fill="#c0c0c0"/>
<rect x="896" y="555" width="1" height="7" fill="#c0c0c0"/>
<rect x="900" y="555" width="1" height="6" fill="#c0c0c0"/>
<rect x="904" y="555" width="1" height="5" fill="#c0c0c0"/>
<rect x="908" y="555" width="1" height="4" fill="#c0c0c0"/>
<rect x="912" y="555" width="1" height="2" fill="#c0c0c0"/>
<rect x="916" y="554" width="1" height="2" fill="#c0c0c0"/>
<rect x="920" y="553" width="1" height="3" fill="#c0c0c0"/>
<rect x="924" y="552" width="1" height="4" fill="#c0c0c0"/>
<rect x="928" y="552" width="1" height="4" fill="#c0c0c0"/>
<rect x="932" y="552" width="1" height="4" fill="#c0c0c0"/>
<rect x="936" y="552" width="1" height="4" fill="#c0c0c0"/>
<rect x="940" y="553" width="1" height="3" fill="#c0c0c0"/>
<rect x="944" y="554" width="1" height="2" fill="#c0c0c0"/>
<rect x="948" y="554" width="1" height="2" fill="#c0c0c0"/>
<rect x="952" y="555" width="1" height="1" fill="#c0c0c0"/>
<rect x="956" y="555" width="1" height="2" fill="#c0c0c0"/>
<rect x="960" y="555" width="1" height="3" fill="#c0c0c0"/>
<rect x="964" y="555" width="1" height="4" fill="#c0c0c0"/>
<rect x="968" y="555" width="1" height="5" fill="#c0c0c0"/>
<rect x="972" y="555" width="1" height="6" fill="#c0c0c0"/>
<rect x="976" y="555" width="1" height="7" fill="#c0c0c0"/>
<rect x="980" y="555" width="1" height="8" fill="#c0c0c0"/>
<rect x="984" y="555" width="1" height="9" fill="#c0c0c0"/>
<rect x="988" y="555" width="1" height="12" fill="#c0c0c0"/>
<rect x="992" y="555" width="1" height="14" fill="#c0c0c0"/>
<rect x="996" y="555" width="1" height="15" fill="#c0c0c0"/>
<rect x="1000" y="555" width="1" height="16" fill="#c0c0c0"/>
<rect x="1004" y="555" width="1" height="17" fill="#c0c0c0"/>
<rect x="1008" y="555" width="1" height="17" fill="#c0c0c0"/>
<rect x="1012" y="555" width="1" height="18" fill="#c0c0c0"/>
<rect x="1016" y="555" width="1" height="17" fill="#c0c0c0"/>
<rect x="1020" y="555" width="1" height="17" fill="#c0c0c0"/>
<rect x="1024" y="555" width="1" height="16" fill="#c0c0c0"/>
<rect x="1028" y="555" width="1" height="15" fill="#c0c0c0"/>
<rect x="1032" y="555" width="1" height="13" fill="#c0c0c0"/>
<rect x="1036" y="555" width="1" height="11" fill="#c0c0c0"/>
<rect x="1040" y="555" width="1" height="11" fill="#c0c0c0"/>
<rect x="1044" y="555" width="1" height="12" fill="#c0c0c0"/>
<rect x="1048" y="555" width="1" height="12" fill="#c0c0c0"/>
<rect x="1052" y="555" width="1" height="11" fill="#c0c0c0"/>
<rect x="1056" y="555" width="1" height="11" fill="#c0c0c0"/>
<rect x="1060" y="555" width="1" height="11" fill="#c0c0c0"/>
<rect x="1064" y="555" width="1" height="10" fill="#c0c0c0"/>
<rect x="1068" y="555" width="1" height="9" fill="#c0c0c0"/>
<rect x="1072" y="555" width="1" height="8" fill="#c0c0c0"/>
<rect x="1076" y="555" width="1" height="7" fill="#c0c0c0"/>
<rect x="1080" y="555" width="1" height="5" fill="#c0c0c0"/>
<rect x="1084" y="555" width="1" height="4" fill="#c0c0c0"/>
<rect x="1088" y="554" width="1" height="2" fill="#c0c0c0"/>
<rect x="1092" y="549" width="1" height="7" fill="#c0c0c0"/>
<rect x="1096" y="544" width="1" height="12" fill="#c0c0c0"/>
<rect x="1100" y="541" width="1" height="15" fill="#c0c0c0"/>
<rect x="1104" y="538" width="1" height="18" fill="#c0c0c0"/>
<rect x="1108" y="538" width="1" height="18" fill="#c0c0c0"/>
<rect x="1112" y="540" width="1" height="16" fill="#c0c0c0"/>
<rect x="1116" y="541" width="1" height="15" fill="#c0c0c0"/>
<rect x="1120" y="542" width="1" height="14" fill="#c0c0c0"/>
<rect x="1124" y="543" width="1" height="13" fill="#c0c0c0"/>
<rect x="1128" y="543" width="1" height="13" fill="#c0c0c0"/>
<rect x="1132" y="544" width="1" height="12" fill="#c0c0c0"/>
<rect x="1136" y="544" width="1" height="12" fill="#c0c0c0"/>
<rect x="1140" y="545" width="1" height="11" fill="#c0c0c0"/>
<rect x="1144" y="546" width="1" height="10" fill="#c0c0c0"/>
<rect x="1148" y="546" width="1" height="10" fill="#c0c0c0"/>
<rect x="1152" y="547" width="1" height="9" fill="#c0c0c0"/>
<rect x="1156" y="548" width="1" height="8" fill="#c0c0c0"/>
<rect x="1160" y="548" width="1" height="8" fill="#c0c0c0"/>
<rect x="1164" y="550" width="1" height="6" fill="#c0c0c0"/>
<rect x="1168" y="552" width="1" height="4" fill="#c0c0c0"/>
<rect x="1172" y="554" width="1" height="2" fill="#c0c0c0"/>
<rect x="1176" y="554" width="1" height="2" fill="#c0c0c0"/>
<rect x="1180" y="555" width="1" height="1" fill="#c0c0c0"/>
<rect x="1184" y="555" width="1" height="4" fill="#c0c0c0"/>
<rect x="1188" y="555" width="1" height="4" fill="#c0c0c0"/>
<rect x="1192" y="555" width="1" height="4" fill="#c0c0c0"/>
<rect x="1196" y="555" width="1" height="5" fill="#c0c0c0"/>
<rect x="1200" y="555" width="1" height="6" fill="#c0c0c0"/>
<rect x="1204" y="555" width="1" height="8" fill="#c0c0c0"/>
<rect x="1208" y="555" width="1" height="10" fill="#c0c0c0"/>
<rect x="1212" y="555" width="1" height="11" fill="#c0c0c0"/>
<rect x="1216" y="555" width="1" height="12" fill="#c0c0c0"/>
<rect x="1220" y="555" width="1" height="12" fill="#c0c0c0"/>
<rect x="1224" y="555" width="1" height="12" fill="#c0c0c0"/>
<rect x="1228" y="555" width="1" height="12" fill="#c0c0c0"/>
<rect x="1232" y="555" width="1" height="12" fill="#c0c0c0"/>
<rect x="1236" y="555" width="1" height="12" fill="#c0c0c0"/>
<rect x="1240" y="555" width="1" height="12" fill="#c0c0c0"/>
<rect x="1244" y="555" width="1" height="12" fill="#c0c0c0"/>
<rect x="1248" y="555" width="1" height="12" fill="#c0c0c0"/>
<rect x="1252" y="555" width="1" height="11" fill="#c0c0c0"/>
<rect x="1256" y="555" width="1" height="11" fill="#c0c0c0"/>
<rect x="1260" y="555" width="1" height="10" fill="#c0c0c0"/>
<rect x="1264" y="555" width="1" height="8" fill="#c0c0c0"/>
<rect x="1268" y="555" width="1" height="7" fill="#c0c0c0"/>
<rect x="1272" y="555" width="1" height="5" fill="#c0c0c0"/>
<rect x="1276" y="555" width="1" height="4" fill="#c0c0c0"/>
<rect x="1280" y="555" width="1" height="4" fill="#c0c0c0"/>
<rect x="1284" y="555" width="1" height="4" fill="#c0c0c0"/>
<rect x="1288" y="555" width="1" height="3" fill="#c0c0c0"/>
<rect x="1292" y="555" width="1" height="3" fill="#c0c0c0"/>
<rect x="1296" y="555" width="1" height="3" fill="#c0c0c0"/>
<rect x="1300" y="555" width="1" height="3" fill="#c0c0c0"/>
<rect x="1304" y="555" width="1" height="3" fill="#c0c0c0"/>
<path d="M728 537.5h3M734 537.5h3M740 537.5h2M722 538.5h3M742 538.5h1M718 539.5h1M746 539.5h3M717 540.5h1M752 540.5h1M1130 540.5h3M716 541.5h1M753 541.5h2M1126 541.5h1M1136 541.5h2M1124 542.5h2M1138 542.5h1M1142 542.5h2M758 543.5h2M1118 543.5h3M1144 543.5h1M1148 543.5h3M711 544.5h2M760 544.5h1M764 544.5h1M814 544.5h1M818 544.5h3M824 544.5h3M830 544.5h3M836 544.5h3M1154 544.5h3M710 545.5h1M765 545.5h2M770 545.5h1M806 545.5h3M812 545.5h2M842 545.5h3M1113 545.5h2M1160 545.5h3M771 546.5h2M776 546.5h1M800 546.5h3M848 546.5h3M1112 546.5h1M1166 546.5h3M706 547.5h1M777 547.5h2M782 547.5h1M790 547.5h1M794 547.5h3M854 547.5h1M1172 547.5h1M705 548.5h1M783 548.5h2M788 548.5h2M855 548.5h2M1173 548.5h2M704 549.5h1M1108 549.5h1M1178 549.5h2M860 550.5h2M1107 550.5h1M1180 550.5h1M700 551.5h1M862 551.5h1M1106 551.5h1M1184 551.5h1M465 552.5h2M470 552.5h2M614 552.5h3M620 552.5h3M626 552.5h3M632 552.5h3M698 552.5h2M1185 552.5h2M459 553.5h2M464 553.5h1M472 553.5h1M476 553.5h3M608 553.5h3M638 553.5h3M866 553.5h1M453 554.5h2M458 554.5h1M482 554.5h3M602 554.5h3M644 554.5h3M694 554.5h1M867 554.5h2M938 554.5h3M944 554.5h3M950 554.5h3M956 554.5h2M1101 554.5h2M1190 554.5h3M447 555.5h2M452 555.5h1M596 555.5h3M650 555.5h1M692 555.5h2M934 555.5h1M958 555.5h1M962 555.5h3M1100 555.5h1M1196 555.5h1M345 556.5h2M350 556.5h3M356 556.5h3M362 556.5h3M368 556.5h3M374 556.5h3M380 556.5h3M386 556.5h3M392 556.5h3M398 556.5h3M404 556.5h3M410 556.5h3M416 556.5h3M422 556.5h3M428 556.5h3M434 556.5h3M440 556.5h3M446 556.5h1M488 556.5h3M591 556.5h2M651 556.5h2M872 556.5h3M932 556.5h2M968 556.5h3M1197 556.5h2M338 557.5h3M344 557.5h1M590 557.5h1M656 557.5h3M688 557.5h1M878 557.5h3M927 557.5h2M974 557.5h3M1202 557.5h1M494 558.5h3M586 558.5h1M662 558.5h2M686 558.5h2M926 558.5h1M980 558.5h1M1095 558.5h2M1203 558.5h2M1298 558.5h3M332 559.5h3M500 559.5h2M584 559.5h2M664 559.5h1M884 559.5h2M922 559.5h1M981 559.5h2M1094 559.5h1M1208 559.5h2M1292 559.5h3M170 560.5h3M176 560.5h3M502 560.5h1M668 560.5h3M674 560.5h2M682 560.5h1M886 560.5h1M916 560.5h1M920 560.5h2M986 560.5h2M1210 560.5h1M1287 560.5h2M110 561.5h3M116 561.5h3M122 561.5h3M152 561.5h3M158 561.5h3M164 561.5h3M182 561.5h3M327 561.5h2M506 561.5h3M512 561.5h2M578 561.5h3M676 561.5h1M680 561.5h2M890 561.5h3M896 561.5h1M908 561.5h3M914 561.5h2M988 561.5h1M1089 561.5h2M1214 561.5h3M1281 561.5h2M1286 561.5h1M104 562.5h3M128 562.5h3M134 562.5h3M140 562.5h3M146 562.5h3M188 562.5h3M326 562.5h1M514 562.5h1M518 562.5h3M897 562.5h2M902 562.5h3M992 562.5h1M1088 562.5h1M1220 562.5h1M1275 562.5h2M1280 562.5h1M98 563.5h3M194 563.5h3M321 563.5h2M524 563.5h3M573 563.5h2M993 563.5h2M1082 563.5h3M1221 563.5h2M1274 563.5h1M92 564.5h3M200 564.5h3M320 564.5h1M530 564.5h3M572 564.5h1M998 564.5h1M1076 564.5h3M1226 564.5h3M1270 564.5h1M86 565.5h3M206 565.5h3M315 565.5h2M536 565.5h3M566 565.5h3M999 565.5h2M1070 565.5h3M1232 565.5h3M1238 565.5h2M1264 565.5h1M1268 565.5h2M82 566.5h1M212 566.5h3M314 566.5h1M542 566.5h3M560 566.5h3M1004 566.5h3M1059 566.5h2M1064 566.5h3M1240 566.5h1M1244 566.5h3M1250 566.5h3M1256 566.5h3M1262 566.5h2M80 567.5h2M218 567.5h3M309 567.5h2M548 567.5h3M554 567.5h3M1010 567.5h2M1052 567.5h3M1058 567.5h1M76 568.5h1M224 568.5h1M308 568.5h1M1012 568.5h1M1046 568.5h3M74 569.5h2M225 569.5h2M303 569.5h2M1034 569.5h3M1040 569.5h3M70 570.5h1M230 570.5h1M302 570.5h1M1016 570.5h3M1022 570.5h3M1028 570.5h3M68 571.5h2M231 571.5h2M64 572.5h1M296 572.5h3M62 573.5h2M236 573.5h2M238 574.5h1M292 574.5h1M57 575.5h2M290 575.5h2M8 576.5h1M56 576.5h1M242 576.5h2M9 577.5h2M52 577.5h1M244 577.5h1M286 577.5h1M50 578.5h2M248 578.5h1M284 578.5h2M249 579.5h2M14 580.5h2M45 580.5h2M279 580.5h2M16 581.5h1M44 581.5h1M254 581.5h3M278 581.5h1M20 582.5h2M40 582.5h1M260 582.5h1M272 582.5h3M22 583.5h1M33 583.5h2M38 583.5h2M261 583.5h2M266 583.5h3M26 584.5h3M32 584.5h1" fill="none" stroke="#ff0000" stroke-width="1" shape-rendering="crispEdges"/>
</g>
<path d="M692 630.5h2M691 631.5h1M694 631.5h2M699 631.5h3M1088 631.5h2M1096 631.5h1M691 632.5h1M696 632.5h3M702 632.5h2M1088 632.5h1M1090 632.5h2M1094 632.5h3M690 633.5h1M704 633.5h1M1088 633.5h1M1092 633.5h2M1097 633.5h1M689 634.5h1M705 634.5h1M808 634.5h1M1087 634.5h1M1097 634.5h1M689 635.5h1M706 635.5h1M712 635.5h1M807 635.5h2M1087 635.5h1M1098 635.5h1M688 636.5h1M707 636.5h1M710 636.5h2M713 636.5h1M807 636.5h1M809 636.5h1M920 636.5h1M1087 636.5h1M1098 636.5h1M687 637.5h1M708 637.5h2M714 637.5h1M806 637.5h1M809 637.5h1M920 637.5h1M1087 637.5h1M1099 637.5h1M686 638.5h1M715 638.5h1M805 638.5h1M810 638.5h1M919 638.5h2M1087 638.5h1M1099 638.5h1M1103 638.5h2M686 639.5h1M716 639.5h1M805 639.5h1M810 639.5h1M919 639.5h1M921 639.5h1M1086 639.5h1M1100 639.5h3M1104 639.5h1M685 640.5h1M717 640.5h1M804 640.5h1M811 640.5h1M918 640.5h1M921 640.5h1M1086 640.5h1M1105 640.5h1M684 641.5h1M718 641.5h1M803 641.5h1M811 641.5h1M815 641.5h6M918 641.5h1M921 641.5h1M1086 641.5h1M1105 641.5h1M682 642.5h2M718 642.5h1M803 642.5h1M812 642.5h3M821 642.5h1M918 642.5h1M921 642.5h1M1086 642.5h1M1105 642.5h1M680 643.5h2M719 643.5h1M802 643.5h1M822 643.5h1M917 643.5h1M922 643.5h1M1085 643.5h1M1106 643.5h1M324 644.5h1M575 644.5h2M680 644.5h1M720 644.5h2M802 644.5h1M822 644.5h1M917 644.5h1M922 644.5h1M1085 644.5h1M1106 644.5h1M323 645.5h2M572 645.5h3M576 645.5h1M680 645.5h1M722 645.5h2M727 645.5h2M736 645.5h1M783 645.5h7M796 645.5h2M801 645.5h1M823 645.5h1M916 645.5h1M922 645.5h1M1085 645.5h1M1106 645.5h1M323 646.5h1M325 646.5h1M400 646.5h1M571 646.5h1M577 646.5h1M679 646.5h1M724 646.5h3M729 646.5h1M735 646.5h1M737 646.5h1M776 646.5h7M790 646.5h2M794 646.5h2M798 646.5h2M801 646.5h1M824 646.5h1M916 646.5h1M922 646.5h1M1085 646.5h1M1107 646.5h1M322 647.5h1M325 647.5h1M399 647.5h2M452 647.5h1M570 647.5h1M577 647.5h1M679 647.5h1M729 647.5h1M735 647.5h1M738 647.5h1M775 647.5h1M792 647.5h2M800 647.5h1M824 647.5h1M915 647.5h1M923 647.5h1M1085 647.5h1M1107 647.5h1M322 648.5h1M325 648.5h1M399 648.5h1M401 648.5h1M450 648.5h2M453 648.5h1M569 648.5h1M577 648.5h1M679 648.5h1M730 648.5h1M734 648.5h1M738 648.5h1M764 648.5h1M773 648.5h2M825 648.5h1M915 648.5h1M923 648.5h1M1084 648.5h1M1107 648.5h1M1132 648.5h2M321 649.5h1M326 649.5h1M398 649.5h1M401 649.5h1M448 649.5h2M454 649.5h1M568 649.5h1M578 649.5h1M679 649.5h1M731 649.5h1M733 649.5h1M739 649.5h1M763 649.5h1M765 649.5h2M772 649.5h1M825 649.5h1M900 649.5h1M914 649.5h1M923 649.5h1M1084 649.5h1M1108 649.5h1M1130 649.5h2M1134 649.5h2M321 650.5h1M326 650.5h1M398 650.5h1M401 650.5h1M447 650.5h1M455 650.5h1M567 650.5h1M578 650.5h1M679 650.5h1M731 650.5h1M733 650.5h1M740 650.5h1M761 650.5h2M767 650.5h1M770 650.5h2M825 650.5h1M900 650.5h2M914 650.5h1M923 650.5h1M1084 650.5h1M1108 650.5h1M1128 650.5h2M1136 650.5h2M1275 650.5h2M315 651.5h4M320 651.5h1M326 651.5h1M383 651.5h2M397 651.5h1M402 651.5h1M446 651.5h1M456 651.5h1M566 651.5h1M579 651.5h1M604 651.5h3M678 651.5h1M732 651.5h1M741 651.5h1M760 651.5h1M768 651.5h2M826 651.5h1M899 651.5h1M901 651.5h1M913 651.5h1M924 651.5h1M927 651.5h2M1083 651.5h1M1109 651.5h1M1126 651.5h2M1138 651.5h2M1143 651.5h4M1156 651.5h2M1272 651.5h3M1276 651.5h1M312 652.5h3M319 652.5h2M326 652.5h1M380 652.5h3M385 652.5h1M397 652.5h1M402 652.5h1M424 652.5h5M445 652.5h1M457 652.5h2M565 652.5h1M579 652.5h1M596 652.5h3M602 652.5h2M607 652.5h2M619 652.5h4M678 652.5h1M741 652.5h1M759 652.5h1M826 652.5h1M899 652.5h1M902 652.5h1M908 652.5h2M913 652.5h1M924 652.5h3M929 652.5h1M1076 652.5h1M1083 652.5h1M1110 652.5h1M1124 652.5h2M1140 652.5h3M1147 652.5h4M1154 652.5h2M1158 652.5h2M1271 652.5h1M1277 652.5h1M76 653.5h1M310 653.5h2M327 653.5h1M379 653.5h1M385 653.5h1M396 653.5h1M402 653.5h1M423 653.5h1M429 653.5h1M444 653.5h1M459 653.5h1M556 653.5h2M564 653.5h1M579 653.5h1M595 653.5h1M599 653.5h3M609 653.5h2M616 653.5h3M623 653.5h2M678 653.5h1M742 653.5h1M759 653.5h1M827 653.5h1M899 653.5h1M903 653.5h1M907 653.5h1M910 653.5h3M930 653.5h1M1075 653.5h1M1077 653.5h1M1082 653.5h1M1110 653.5h1M1123 653.5h1M1151 653.5h3M1160 653.5h1M1271 653.5h1M1277 653.5h1M76 654.5h2M308 654.5h2M327 654.5h1M332 654.5h1M379 654.5h1M386 654.5h1M395 654.5h1M403 654.5h1M421 654.5h2M430 654.5h1M442 654.5h2M460 654.5h1M555 654.5h1M558 654.5h2M562 654.5h2M580 654.5h1M595 654.5h1M611 654.5h1M614 654.5h2M624 654.5h1M678 654.5h1M743 654.5h1M758 654.5h1M827 654.5h1M898 654.5h1M903 654.5h1M905 654.5h2M912 654.5h1M931 654.5h1M1075 654.5h1M1078 654.5h1M1082 654.5h1M1111 654.5h1M1115 654.5h2M1122 654.5h1M1160 654.5h1M1270 654.5h1M1278 654.5h1M1304 654.5h1M76 655.5h1M78 655.5h1M148 655.5h5M307 655.5h1M327 655.5h1M331 655.5h1M333 655.5h2M378 655.5h1M386 655.5h1M393 655.5h2M403 655.5h1M420 655.5h1M431 655.5h1M440 655.5h2M460 655.5h1M553 655.5h2M560 655.5h2M580 655.5h3M594 655.5h1M612 655.5h2M625 655.5h1M656 655.5h1M678 655.5h1M743 655.5h1M758 655.5h1M827 655.5h1M898 655.5h1M904 655.5h1M932 655.5h1M1074 655.5h1M1078 655.5h1M1081 655.5h1M1112 655.5h3M1117 655.5h2M1122 655.5h1M1161 655.5h1M1270 655.5h1M1278 655.5h1M1303 655.5h1M76 656.5h1M79 656.5h1M148 656.5h1M153 656.5h1M307 656.5h1M328 656.5h3M335 656.5h1M352 656.5h2M378 656.5h1M387 656.5h1M392 656.5h1M403 656.5h1M419 656.5h1M432 656.5h3M438 656.5h2M461 656.5h1M552 656.5h1M583 656.5h3M593 656.5h1M625 656.5h1M656 656.5h3M664 656.5h1M678 656.5h1M744 656.5h1M757 656.5h1M828 656.5h1M897 656.5h1M933 656.5h1M1074 656.5h1M1079 656.5h1M1081 656.5h1M1119 656.5h1M1121 656.5h1M1161 656.5h1M1269 656.5h1M1278 656.5h1M1301 656.5h2M75 657.5h1M80 657.5h5M147 657.5h1M154 657.5h1M306 657.5h1M328 657.5h1M336 657.5h1M351 657.5h1M354 657.5h2M377 657.5h1M387 657.5h1M390 657.5h2M404 657.5h1M417 657.5h2M435 657.5h3M461 657.5h1M552 657.5h1M586 657.5h2M593 657.5h1M625 657.5h1M656 657.5h1M659 657.5h1M662 657.5h3M677 657.5h1M744 657.5h1M757 657.5h1M828 657.5h3M897 657.5h1M933 657.5h1M1073 657.5h1M1080 657.5h1M1120 657.5h1M1162 657.5h1M1269 657.5h1M1279 657.5h1M1300 657.5h1M75 658.5h1M84 658.5h1M147 658.5h1M155 658.5h1M305 658.5h1M337 658.5h2M351 658.5h1M356 658.5h1M377 658.5h1M388 658.5h2M404 658.5h1M416 658.5h1M462 658.5h1M551 658.5h1M588 658.5h5M626 658.5h1M655 658.5h1M660 658.5h2M665 658.5h1M677 658.5h1M745 658.5h1M755 658.5h2M831 658.5h3M897 658.5h1M934 658.5h1M1068 658.5h2M1073 658.5h1M1162 658.5h1M1260 658.5h2M1268 658.5h1M1279 658.5h1M1299 658.5h1M75 659.5h1M85 659.5h1M147 659.5h1M156 659.5h1M305 659.5h1M339 659.5h1M350 659.5h1M357 659.5h2M376 659.5h1M404 659.5h1M415 659.5h1M462 659.5h1M551 659.5h1M626 659.5h1M655 659.5h1M665 659.5h1M677 659.5h1M745 659.5h1M752 659.5h3M834 659.5h2M896 659.5h1M935 659.5h1M1068 659.5h1M1070 659.5h3M1163 659.5h1M1259 659.5h1M1262 659.5h2M1266 659.5h2M1280 659.5h1M1283 659.5h2M1298 659.5h1M60 660.5h1M75 660.5h1M85 660.5h1M146 660.5h1M157 660.5h1M304 660.5h1M340 660.5h1M349 660.5h1M359 660.5h1M376 660.5h1M405 660.5h1M415 660.5h1M463 660.5h1M551 660.5h1M627 660.5h1M655 660.5h1M666 660.5h1M677 660.5h1M746 660.5h1M751 660.5h1M836 660.5h2M896 660.5h1M935 660.5h1M1031 660.5h3M1067 660.5h1M1072 660.5h1M1163 660.5h1M1257 660.5h2M1264 660.5h2M1280 660.5h3M1285 660.5h1M1298 660.5h1M60 661.5h2M75 661.5h1M86 661.5h1M146 661.5h1M158 661.5h1M302 661.5h2M341 661.5h1M349 661.5h1M360 661.5h1M375 661.5h1M405 661.5h1M414 661.5h1M463 661.5h1M551 661.5h1M627 661.5h1M655 661.5h1M666 661.5h1M677 661.5h1M746 661.5h1M750 661.5h1M838 661.5h2M848 661.5h1M895 661.5h1M936 661.5h6M976 661.5h1M1028 661.5h3M1034 661.5h2M1067 661.5h1M1164 661.5h1M1256 661.5h1M1285 661.5h1M1297 661.5h1M59 662.5h1M61 662.5h1M75 662.5h1M86 662.5h1M96 662.5h3M146 662.5h1M159 662.5h1M288 662.5h1M300 662.5h2M342 662.5h1M348 662.5h1M361 662.5h2M368 662.5h1M375 662.5h1M405 662.5h1M413 662.5h1M464 662.5h1M495 662.5h6M550 662.5h1M627 662.5h1M654 662.5h1M667 662.5h1M676 662.5h1M747 662.5h1M750 662.5h1M840 662.5h3M846 662.5h2M849 662.5h1M894 662.5h1M942 662.5h2M976 662.5h2M1026 662.5h2M1036 662.5h1M1066 662.5h1M1164 662.5h1M1256 662.5h1M1286 662.5h1M1296 662.5h1M59 663.5h1M62 663.5h1M74 663.5h1M87 663.5h1M95 663.5h1M99 663.5h2M145 663.5h1M160 663.5h1M276 663.5h2M286 663.5h2M289 663.5h2M299 663.5h1M343 663.5h1M346 663.5h2M363 663.5h1M366 663.5h3M375 663.5h1M405 663.5h1M413 663.5h1M465 663.5h1M492 663.5h3M500 663.5h1M550 663.5h1M628 663.5h1M654 663.5h1M667 663.5h1M671 663.5h4M676 663.5h1M747 663.5h1M749 663.5h1M843 663.5h3M849 663.5h1M894 663.5h1M944 663.5h3M975 663.5h1M977 663.5h1M1024 663.5h2M1037 663.5h1M1066 663.5h1M1165 663.5h1M1188 663.5h2M1255 663.5h1M1287 663.5h1M1294 663.5h2M58 664.5h1M63 664.5h1M74 664.5h1M87 664.5h1M93 664.5h2M101 664.5h2M145 664.5h1M161 664.5h1M275 664.5h1M278 664.5h2M283 664.5h3M291 664.5h1M298 664.5h1M344 664.5h2M364 664.5h2M369 664.5h1M374 664.5h1M406 664.5h1M412 664.5h1M466 664.5h1M492 664.5h1M500 664.5h1M550 664.5h1M628 664.5h1M654 664.5h1M668 664.5h3M675 664.5h2M748 664.5h1M850 664.5h1M893 664.5h1M947 664.5h4M975 664.5h1M978 664.5h1M1004 664.5h1M1022 664.5h2M1038 664.5h1M1065 664.5h1M1165 664.5h1M1176 664.5h1M1187 664.5h1M1190 664.5h2M1195 664.5h2M1255 664.5h1M1287 664.5h1M1291 664.5h3M58 665.5h1M63 665.5h1M74 665.5h1M88 665.5h1M91 665.5h2M103 665.5h1M111 665.5h7M124 665.5h5M145 665.5h1M161 665.5h1M273 665.5h2M280 665.5h3M292 665.5h2M298 665.5h1M369 665.5h1M374 665.5h1M406 665.5h1M412 665.5h1M467 665.5h1M492 665.5h1M501 665.5h1M549 665.5h1M629 665.5h1M654 665.5h1M850 665.5h1M892 665.5h1M951 665.5h2M975 665.5h1M978 665.5h1M1003 665.5h1M1005 665.5h1M1020 665.5h2M1038 665.5h1M1044 665.5h3M1065 665.5h1M1166 665.5h1M1175 665.5h1M1177 665.5h1M1187 665.5h1M1192 665.5h3M1197 665.5h1M1255 665.5h1M1288 665.5h3M57 666.5h1M64 666.5h2M74 666.5h1M88 666.5h3M104 666.5h7M118 666.5h2M122 666.5h2M128 666.5h1M144 666.5h1M162 666.5h1M272 666.5h1M294 666.5h2M297 666.5h1M370 666.5h1M373 666.5h1M406 666.5h1M411 666.5h1M468 666.5h2M491 666.5h1M501 666.5h1M508 666.5h2M549 666.5h1M630 666.5h1M654 666.5h1M851 666.5h1M891 666.5h1M953 666.5h1M974 666.5h1M979 666.5h1M1002 666.5h1M1005 666.5h1M1018 666.5h2M1039 666.5h1M1042 666.5h2M1047 666.5h4M1064 666.5h1M1166 666.5h1M1175 666.5h1M1178 666.5h1M1186 666.5h1M1197 666.5h1M1255 666.5h1M57 667.5h1M66 667.5h2M74 667.5h1M120 667.5h2M129 667.5h1M144 667.5h1M163 667.5h1M271 667.5h1M296 667.5h1M370 667.5h1M373 667.5h1M406 667.5h1M411 667.5h1M470 667.5h2M491 667.5h1M501 667.5h1M508 667.5h1M510 667.5h2M520 667.5h2M549 667.5h1M630 667.5h1M653 667.5h1M851 667.5h1M891 667.5h1M954 667.5h1M974 667.5h1M979 667.5h1M1002 667.5h1M1006 667.5h1M1016 667.5h2M1040 667.5h2M1051 667.5h4M1064 667.5h1M1167 667.5h1M1174 667.5h1M1179 667.5h1M1186 667.5h1M1198 667.5h1M1254 667.5h1M56 668.5h1M68 668.5h1M74 668.5h1M129 668.5h1M142 668.5h2M163 668.5h1M269 668.5h2M371 668.5h1M373 668.5h1M407 668.5h1M410 668.5h1M472 668.5h2M491 668.5h1M501 668.5h1M507 668.5h1M512 668.5h3M518 668.5h2M522 668.5h2M549 668.5h1M631 668.5h1M653 668.5h1M852 668.5h1M890 668.5h1M955 668.5h1M974 668.5h1M980 668.5h1M992 668.5h1M1001 668.5h1M1006 668.5h1M1015 668.5h1M1055 668.5h3M1063 668.5h1M1167 668.5h1M1173 668.5h1M1180 668.5h2M1185 668.5h1M1199 668.5h1M1220 668.5h3M1254 668.5h1M56 669.5h1M68 669.5h1M74 669.5h1M130 669.5h1M140 669.5h2M164 669.5h1M268 669.5h1M371 669.5h2M407 669.5h1M410 669.5h1M474 669.5h2M491 669.5h1M502 669.5h1M507 669.5h1M515 669.5h3M524 669.5h2M532 669.5h1M548 669.5h1M632 669.5h1M653 669.5h1M853 669.5h1M864 669.5h5M890 669.5h1M956 669.5h1M973 669.5h1M980 669.5h1M992 669.5h2M1000 669.5h1M1007 669.5h1M1014 669.5h1M1058 669.5h2M1061 669.5h2M1168 669.5h3M1173 669.5h1M1182 669.5h2M1185 669.5h1M1199 669.5h1M1220 669.5h1M1223 669.5h4M1254 669.5h1M54 670.5h2M69 670.5h1M73 670.5h1M130 670.5h1M139 670.5h1M165 670.5h2M267 670.5h1M372 670.5h1M407 670.5h1M409 670.5h1M476 670.5h1M490 670.5h1M502 670.5h1M507 670.5h1M526 670.5h2M530 670.5h3M547 670.5h2M633 670.5h1M653 670.5h1M854 670.5h1M863 670.5h1M868 670.5h1M884 670.5h2M889 670.5h1M957 670.5h2M964 670.5h3M973 670.5h1M981 670.5h1M992 670.5h2M999 670.5h1M1007 670.5h1M1014 670.5h1M1060 670.5h1M1171 670.5h2M1184 670.5h1M1200 670.5h1M1219 670.5h1M1227 670.5h8M1254 670.5h1M48 671.5h6M69 671.5h1M73 671.5h1M131 671.5h1M137 671.5h2M167 671.5h1M176 671.5h1M266 671.5h1M407 671.5h1M409 671.5h1M477 671.5h1M490 671.5h1M502 671.5h1M507 671.5h1M528 671.5h2M533 671.5h1M544 671.5h3M634 671.5h1M640 671.5h2M652 671.5h1M855 671.5h1M862 671.5h1M869 671.5h1M883 671.5h1M886 671.5h2M889 671.5h1M959 671.5h1M962 671.5h2M967 671.5h3M973 671.5h1M981 671.5h1M991 671.5h1M994 671.5h1M999 671.5h1M1008 671.5h3M1013 671.5h1M1200 671.5h1M1219 671.5h1M1235 671.5h3M1253 671.5h1M46 672.5h2M69 672.5h1M73 672.5h1M131 672.5h1M136 672.5h1M168 672.5h2M175 672.5h1M177 672.5h2M266 672.5h1M408 672.5h1M478 672.5h1M490 672.5h1M502 672.5h1M506 672.5h1M533 672.5h1M543 672.5h1M634 672.5h1M639 672.5h1M642 672.5h2M652 672.5h1M856 672.5h3M861 672.5h1M869 672.5h1M882 672.5h1M888 672.5h1M960 672.5h2M970 672.5h3M981 672.5h1M991 672.5h1M994 672.5h1M998 672.5h1M1011 672.5h2M1201 672.5h1M1218 672.5h1M1238 672.5h2M1253 672.5h1M28 673.5h2M40 673.5h6M70 673.5h1M73 673.5h1M132 673.5h1M134 673.5h2M170 673.5h2M173 673.5h2M179 673.5h1M265 673.5h1M408 673.5h1M478 673.5h1M490 673.5h1M502 673.5h1M506 673.5h1M534 673.5h1M543 673.5h1M635 673.5h1M637 673.5h2M644 673.5h1M652 673.5h1M859 673.5h2M870 673.5h1M881 673.5h1M972 673.5h1M981 673.5h1M991 673.5h1M995 673.5h1M997 673.5h1M1201 673.5h1M1218 673.5h1M1240 673.5h2M1253 673.5h1M27 674.5h1M30 674.5h2M38 674.5h2M70 674.5h1M73 674.5h1M132 674.5h2M172 674.5h1M180 674.5h1M200 674.5h1M208 674.5h1M263 674.5h2M479 674.5h1M489 674.5h1M503 674.5h1M506 674.5h1M534 674.5h1M542 674.5h1M636 674.5h1M644 674.5h1M652 674.5h1M870 674.5h1M880 674.5h1M982 674.5h1M991 674.5h1M995 674.5h1M997 674.5h1M1202 674.5h1M1218 674.5h1M1242 674.5h2M1253 674.5h1M25 675.5h2M32 675.5h6M71 675.5h1M73 675.5h1M180 675.5h1M200 675.5h2M207 675.5h2M260 675.5h3M480 675.5h2M489 675.5h1M503 675.5h1M505 675.5h1M535 675.5h1M542 675.5h1M645 675.5h1M651 675.5h1M870 675.5h1M879 675.5h1M982 675.5h1M991 675.5h1M996 675.5h1M1202 675.5h1M1217 675.5h1M1244 675.5h3M1252 675.5h1M24 676.5h1M71 676.5h2M181 676.5h1M199 676.5h1M202 676.5h1M206 676.5h1M209 676.5h1M252 676.5h2M259 676.5h1M482 676.5h2M489 676.5h1M503 676.5h1M505 676.5h1M535 676.5h1M541 676.5h1M645 676.5h1M651 676.5h1M871 676.5h1M877 676.5h2M982 676.5h1M991 676.5h1M1203 676.5h1M1217 676.5h1M1247 676.5h6M23 677.5h1M71 677.5h2M181 677.5h1M199 677.5h1M203 677.5h1M205 677.5h1M209 677.5h1M251 677.5h1M254 677.5h2M257 677.5h2M484 677.5h1M489 677.5h1M503 677.5h1M505 677.5h1M536 677.5h1M541 677.5h1M646 677.5h1M650 677.5h1M871 677.5h1M876 677.5h1M982 677.5h1M990 677.5h1M1203 677.5h1M1211 677.5h4M1216 677.5h1M16 678.5h3M21 678.5h2M72 678.5h1M182 678.5h1M188 678.5h1M198 678.5h1M204 678.5h1M209 678.5h1M249 678.5h2M256 678.5h1M485 678.5h2M488 678.5h1M504 678.5h2M536 678.5h3M540 678.5h1M646 678.5h1M650 678.5h1M872 678.5h1M874 678.5h2M983 678.5h1M990 678.5h1M1204 678.5h7M1215 678.5h2M16 679.5h1M19 679.5h2M72 679.5h1M182 679.5h1M187 679.5h1M189 679.5h1M198 679.5h1M209 679.5h1M248 679.5h1M487 679.5h2M504 679.5h1M539 679.5h2M646 679.5h1M650 679.5h1M872 679.5h2M983 679.5h1M990 679.5h1M16 680.5h1M183 680.5h1M186 680.5h1M190 680.5h1M197 680.5h1M210 680.5h1M240 680.5h1M247 680.5h1M488 680.5h1M504 680.5h1M647 680.5h1M649 680.5h1M983 680.5h1M990 680.5h1M15 681.5h1M183 681.5h1M185 681.5h1M191 681.5h1M197 681.5h1M210 681.5h1M240 681.5h2M246 681.5h1M647 681.5h1M649 681.5h1M983 681.5h1M990 681.5h1M15 682.5h1M184 682.5h1M192 682.5h3M196 682.5h1M210 682.5h1M240 682.5h1M242 682.5h1M246 682.5h1M648 682.5h1M984 682.5h1M990 682.5h1M15 683.5h1M195 683.5h2M210 683.5h1M216 683.5h3M239 683.5h1M243 683.5h1M245 683.5h1M648 683.5h1M984 683.5h1M989 683.5h1M15 684.5h1M211 684.5h1M215 684.5h1M219 684.5h2M239 684.5h1M244 684.5h1M984 684.5h1M989 684.5h1M15 685.5h1M211 685.5h1M215 685.5h1M220 685.5h1M239 685.5h1M985 685.5h1M989 685.5h1M14 686.5h1M211 686.5h1M214 686.5h1M221 686.5h1M239 686.5h1M985 686.5h1M989 686.5h1M14 687.5h1M211 687.5h1M213 687.5h1M221 687.5h1M239 687.5h1M986 687.5h1M989 687.5h1M14 688.5h1M212 688.5h2M221 688.5h1M238 688.5h1M986 688.5h1M989 688.5h1M14 689.5h1M212 689.5h1M222 689.5h1M238 689.5h1M987 689.5h2M13 690.5h1M222 690.5h1M238 690.5h1M987 690.5h2M13 691.5h1M222 691.5h1M238 691.5h1M988 691.5h1M13 692.5h1M223 692.5h1M228 692.5h1M237 692.5h1M988 692.5h1M13 693.5h1M223 693.5h1M227 693.5h1M229 693.5h1M237 693.5h1M13 694.5h1M223 694.5h1M226 694.5h1M230 694.5h1M237 694.5h1M12 695.5h1M224 695.5h2M230 695.5h1M237 695.5h1M12 696.5h1M224 696.5h1M231 696.5h1M237 696.5h1M11 697.5h2M232 697.5h2M236 697.5h1M8 698.5h3M234 698.5h3M236 699.5h1" fill="none" stroke="#1e90ff" stroke-width="1" shape-rendering="crispEdges"/>
<rect x="7" y="285" width="6" height="6" fill="#00f878"/><rect x="9" y="287" width="2" height="2" fill="#fff"/>
<rect x="1631" y="285" width="6" height="6" fill="#00f878"/><rect x="1633" y="287" width="2" height="2" fill="#fff"/>
<rect x="1638" y="68" width="3" height="1" fill="#000"/>
<text class="ax" x="1644" y="73" textLength="38" lengthAdjust="spacingAndGlyphs" shape-rendering="auto">64.300</text>
<rect x="1638" y="117" width="3" height="1" fill="#000"/>
<text class="ax" x="1644" y="122" textLength="38" lengthAdjust="spacingAndGlyphs" shape-rendering="auto">63.580</text>
<rect x="1638" y="166" width="3" height="1" fill="#000"/>
<text class="ax" x="1644" y="171" textLength="38" lengthAdjust="spacingAndGlyphs" shape-rendering="auto">62.870</text>
<rect x="1638" y="215" width="3" height="1" fill="#000"/>
<text class="ax" x="1644" y="220" textLength="38" lengthAdjust="spacingAndGlyphs" shape-rendering="auto">62.150</text>
<rect x="1638" y="264" width="3" height="1" fill="#000"/>
<text class="ax" x="1644" y="269" textLength="38" lengthAdjust="spacingAndGlyphs" shape-rendering="auto">61.440</text>
<rect x="1638" y="313" width="3" height="1" fill="#000"/>
<text class="ax" x="1644" y="318" textLength="38" lengthAdjust="spacingAndGlyphs" shape-rendering="auto">60.720</text>
<rect x="1638" y="362" width="3" height="1" fill="#000"/>
<text class="ax" x="1644" y="367" textLength="38" lengthAdjust="spacingAndGlyphs" shape-rendering="auto">60.000</text>
<rect x="1638" y="411" width="3" height="1" fill="#000"/>
<text class="ax" x="1644" y="416" textLength="38" lengthAdjust="spacingAndGlyphs" shape-rendering="auto">59.290</text>
<rect x="1638" y="509" width="3" height="1" fill="#000"/>
<text class="ax" x="1644" y="514" textLength="38" lengthAdjust="spacingAndGlyphs" shape-rendering="auto">57.860</text>
<rect x="1639" y="119" width="49" height="14" fill="#ff0000"/>
<text class="ax" x="1644.5" y="131" textLength="38" lengthAdjust="spacingAndGlyphs" fill="#fff" style="fill:#fff" shape-rendering="auto">63.472</text>
<rect x="1639" y="282" width="49" height="14" fill="#00f878"/>
<text class="ax" x="1644.5" y="294" textLength="38" lengthAdjust="spacingAndGlyphs" fill="#fff" style="fill:#fff" shape-rendering="auto">61.084</text>
<rect x="1639" y="320" width="49" height="14" fill="#000000"/>
<text class="ax" x="1644.5" y="332" textLength="38" lengthAdjust="spacingAndGlyphs" fill="#fff" style="fill:#fff" shape-rendering="auto">60.540</text>
<rect x="1639" y="455" width="49" height="14" fill="#0000ff"/>
<text class="ax" x="1644.5" y="467" textLength="38" lengthAdjust="spacingAndGlyphs" fill="#fff" style="fill:#fff" shape-rendering="auto">58.567</text>
<rect x="1638" y="530" width="2" height="1" fill="#000"/>
<rect x="1638" y="591" width="2" height="1" fill="#000"/>
<rect x="1638" y="593" width="2" height="1" fill="#000"/>
<rect x="1638" y="722" width="2" height="1" fill="#000"/>
<rect x="1638" y="555" width="2" height="1" fill="#000"/>
<text class="ax" x="1641.3" y="544" shape-rendering="auto">0.8433</text>
<text class="ax" x="1641.3" y="560" shape-rendering="auto">0.00</text>
<text class="ax" x="1641.3" y="588" shape-rendering="auto">-1.2494</text>
<rect x="1638" y="633" width="2" height="1" fill="#000"/>
<rect x="1638" y="683" width="2" height="1" fill="#000"/>
<text class="ax" x="1640.6" y="607" shape-rendering="auto">100</text>
<text class="ax" x="1639.8" y="638" shape-rendering="auto">70</text>
<text class="ax" x="1639.8" y="688" shape-rendering="auto">30</text>
<text class="ax" x="1641.5" y="719" shape-rendering="auto">0</text>
<line x1="8" y1="633.5" x2="1637" y2="633.5" stroke="#c0c0c0" stroke-width="1" stroke-dasharray="3,3" stroke-dashoffset="5"/>
<line x1="8" y1="683.5" x2="1637" y2="683.5" stroke="#c0c0c0" stroke-width="1" stroke-dasharray="3,3" stroke-dashoffset="5"/>
<rect x="8" y="723" width="1" height="3" fill="#000"/>
<text class="ax" x="7" y="738" shape-rendering="auto">20 Nov 2018</text>
<rect x="104" y="723" width="1" height="3" fill="#000"/>
<text class="ax" x="103" y="738" shape-rendering="auto">22 Nov 01:00</text>
<rect x="200" y="723" width="1" height="3" fill="#000"/>
<text class="ax" x="199" y="738" shape-rendering="auto">23 Nov 07:00</text>
<rect x="296" y="723" width="1" height="3" fill="#000"/>
<text class="ax" x="295" y="738" shape-rendering="auto">26 Nov 11:00</text>
<rect x="392" y="723" width="1" height="3" fill="#000"/>
<text class="ax" x="391" y="738" shape-rendering="auto">27 Nov 13:00</text>
<rect x="488" y="723" width="1" height="3" fill="#000"/>
<text class="ax" x="487" y="738" shape-rendering="auto">28 Nov 15:00</text>
<rect x="584" y="723" width="1" height="3" fill="#000"/>
<text class="ax" x="583" y="738" shape-rendering="auto">29 Nov 20:00</text>
<rect x="680" y="723" width="1" height="3" fill="#000"/>
<text class="ax" x="679" y="738" shape-rendering="auto">2 Dec 23:00</text>
<rect x="776" y="723" width="1" height="3" fill="#000"/>
<text class="ax" x="775" y="738" shape-rendering="auto">4 Dec 01:00</text>
<rect x="872" y="723" width="1" height="3" fill="#000"/>
<text class="ax" x="871" y="738" shape-rendering="auto">5 Dec 03:00</text>
<rect x="968" y="723" width="1" height="3" fill="#000"/>
<text class="ax" x="967" y="738" shape-rendering="auto">6 Dec 05:00</text>
<rect x="1064" y="723" width="1" height="3" fill="#000"/>
<text class="ax" x="1063" y="738" shape-rendering="auto">7 Dec 07:00</text>
<rect x="1160" y="723" width="1" height="3" fill="#000"/>
<text class="ax" x="1159" y="738" shape-rendering="auto">10 Dec 08:00</text>
<rect x="1256" y="723" width="1" height="3" fill="#000"/>
<text class="ax" x="1255" y="738" shape-rendering="auto">11 Dec 10:00</text>
<path d="M11 46.5 L16 40.5 L20.5 46.5 Z" fill="#000" shape-rendering="auto"/>
<text class="ax" x="26" y="48" textLength="50" lengthAdjust="spacingAndGlyphs" shape-rendering="auto">UKOil-,H1</text>
<text class="ax" x="85.2" y="48" textLength="167" lengthAdjust="spacingAndGlyphs" shape-rendering="auto">60.520 60.600 60.430 60.540</text>
<text class="ax" x="12.3" y="546" textLength="82.3" lengthAdjust="spacingAndGlyphs" shape-rendering="auto">MACD(12,26,9)</text>
<text class="ax" x="101.4" y="546" textLength="42" lengthAdjust="spacingAndGlyphs" shape-rendering="auto">-0.0459</text>
<text class="ax" x="148.3" y="546" textLength="42" lengthAdjust="spacingAndGlyphs" shape-rendering="auto">-0.0788</text>
<text class="ax" x="12" y="609" textLength="41.2" lengthAdjust="spacingAndGlyphs" shape-rendering="auto">RSI(14)</text>
<text class="ax" x="58" y="609" textLength="45.7" lengthAdjust="spacingAndGlyphs" shape-rendering="auto">52.8198</text>
<path d="M1304 34 L1315 34 L1309.5 40 Z" fill="#c0c0c0" shape-rendering="auto"/>
<text class="cj" x="1239.5" y="281.5" font-size="50.5px" fill="#ff1e0f" stroke="#ff1e0f" stroke-width="0.4" transform="translate(0,282) scale(1,1.035) translate(0,-282)" style="font-family:&quot;Liberation Sans&quot;,&quot;Noto Sans CJK SC&quot;,sans-serif" shape-rendering="auto">多空转折点61</text>
<g id="oct">
<rect x="10" y="54" width="286" height="80" fill="#ffffff"/>
<rect x="11" y="56" width="68" height="28" fill="url(#gb1)"/>
<rect x="227" y="56" width="67" height="28" fill="url(#gb1)"/>
<rect x="11" y="84" width="141" height="48" fill="url(#gb2)"/>
<rect x="154" y="84" width="140" height="48" fill="url(#gb2)"/>
<rect x="15" y="83" width="60" height="1" fill="#8c8cff"/>
<rect x="230" y="83" width="60" height="1" fill="#8c8cff"/>
<rect x="80.5" y="56.5" width="146" height="26" fill="#fff" stroke="#b0b0b0" stroke-width="1"/>
<rect x="82" y="57" width="23" height="22" fill="url(#gsp)" stroke="#c8c8c8" stroke-width="1"/>
<rect x="200" y="57" width="23" height="22" fill="url(#gsp)" stroke="#c8c8c8" stroke-width="1"/>
<path d="M89.5 67.5 L97.5 67.5 L93.5 71.5 Z" fill="#5060b0" shape-rendering="auto"/>
<path d="M207.5 70 L215.5 70 L211.5 66 Z" fill="#5060b0" shape-rendering="auto"/>
<text x="165.5" y="73" font-size="15px" fill="#000" textLength="30" lengthAdjust="spacingAndGlyphs" shape-rendering="auto">1.00</text>
<text x="28.5" y="74.5" font-size="15px" fill="#fff" textLength="32.5" lengthAdjust="spacingAndGlyphs" shape-rendering="auto">SELL</text>
<text x="245.5" y="74.5" font-size="15px" fill="#fff" textLength="28" lengthAdjust="spacingAndGlyphs" shape-rendering="auto">BUY</text>
<text x="50" y="120.5" font-size="14.5px" font-weight="bold" fill="#fff" textLength="17.5" lengthAdjust="spacingAndGlyphs" shape-rendering="auto">60</text>
<text x="75" y="121" font-size="40.5px" fill="#fff" textLength="41" lengthAdjust="spacingAndGlyphs" shape-rendering="auto">54</text>
<text x="121.3" y="103" font-size="13px" font-weight="bold" fill="#fff" textLength="8.5" lengthAdjust="spacingAndGlyphs" shape-rendering="auto">0</text>
<text x="192.5" y="120.5" font-size="14.5px" font-weight="bold" fill="#fff" textLength="17.5" lengthAdjust="spacingAndGlyphs" shape-rendering="auto">60</text>
<text x="217" y="121" font-size="40.5px" fill="#fff" textLength="41" lengthAdjust="spacingAndGlyphs" shape-rendering="auto">60</text>
<text x="264.5" y="103" font-size="13px" font-weight="bold" fill="#fff" textLength="8.5" lengthAdjust="spacingAndGlyphs" shape-rendering="auto">0</text>
</g>
</svg></body></html>
